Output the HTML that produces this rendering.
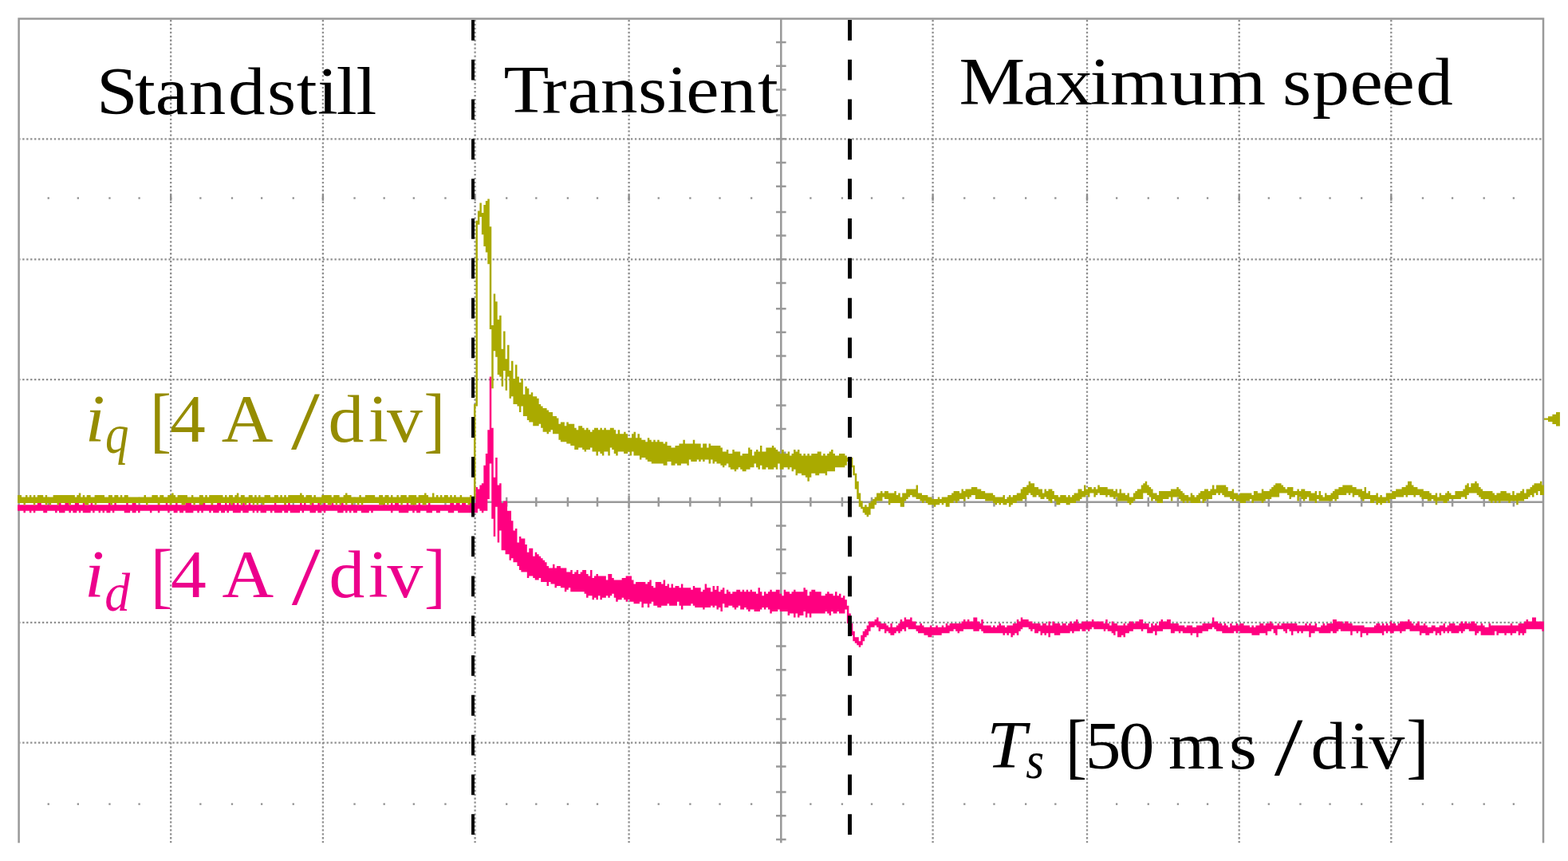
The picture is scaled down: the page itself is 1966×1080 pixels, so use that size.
<!DOCTYPE html>
<html lang="en">
<head>
<meta charset="utf-8">
<title>Oscilloscope: i_q and i_d currents - standstill, transient, maximum speed</title>
<style>
html,body{margin:0;padding:0;background:#fff;}
body{width:1966px;height:1080px;overflow:hidden;font-family:"Liberation Serif",serif;}
svg{display:block;}
</style>
</head>
<body>
<svg width="1966" height="1080" viewBox="0 0 1966 1080">
<rect width="1966" height="1080" fill="#fff"/>
<g stroke="#8e8e8e" stroke-width="2.3" stroke-dasharray="2.3 2.653" fill="none">
<line x1="214.2" y1="24.7" x2="214.2" y2="1057.6" stroke-dashoffset="-0.15"/>
<line x1="404.9" y1="24.7" x2="404.9" y2="1057.6" stroke-dashoffset="-0.15"/>
<line x1="595.6" y1="24.7" x2="595.6" y2="1057.6" stroke-dashoffset="-0.15"/>
<line x1="788.6" y1="24.7" x2="788.6" y2="1057.6" stroke-dashoffset="-0.15"/>
<line x1="1169.6" y1="24.7" x2="1169.6" y2="1057.6" stroke-dashoffset="-0.15"/>
<line x1="1363" y1="24.7" x2="1363" y2="1057.6" stroke-dashoffset="-0.15"/>
<line x1="1553.7" y1="24.7" x2="1553.7" y2="1057.6" stroke-dashoffset="-0.15"/>
<line x1="1744.3" y1="24.7" x2="1744.3" y2="1057.6" stroke-dashoffset="-0.15"/>
<line x1="24.9" y1="174.3" x2="1933.8" y2="174.3" stroke-dashoffset="-3.3"/>
<line x1="24.9" y1="325.3" x2="1933.8" y2="325.3" stroke-dashoffset="-3.3"/>
<line x1="24.9" y1="476.2" x2="1933.8" y2="476.2" stroke-dashoffset="-3.3"/>
<line x1="24.9" y1="780.9" x2="1933.8" y2="780.9" stroke-dashoffset="-3.3"/>
<line x1="24.9" y1="931.7" x2="1933.8" y2="931.7" stroke-dashoffset="-3.3"/>
</g>
<g fill="#8e8e8e">
<rect x="59.58" y="247.35" width="2.3" height="2.3"/>
<rect x="96.71" y="247.35" width="2.3" height="2.3"/>
<rect x="136.31" y="247.35" width="2.3" height="2.3"/>
<rect x="173.44" y="247.35" width="2.3" height="2.3"/>
<rect x="250.2" y="247.35" width="2.3" height="2.3"/>
<rect x="289.83" y="247.35" width="2.3" height="2.3"/>
<rect x="326.97" y="247.35" width="2.3" height="2.3"/>
<rect x="366.6" y="247.35" width="2.3" height="2.3"/>
<rect x="443.38" y="247.35" width="2.3" height="2.3"/>
<rect x="480.53" y="247.35" width="2.3" height="2.3"/>
<rect x="517.67" y="247.35" width="2.3" height="2.3"/>
<rect x="557.3" y="247.35" width="2.3" height="2.3"/>
<rect x="634.04" y="247.35" width="2.3" height="2.3"/>
<rect x="671.16" y="247.35" width="2.3" height="2.3"/>
<rect x="710.74" y="247.35" width="2.3" height="2.3"/>
<rect x="747.86" y="247.35" width="2.3" height="2.3"/>
<rect x="824.6" y="247.35" width="2.3" height="2.3"/>
<rect x="864.23" y="247.35" width="2.3" height="2.3"/>
<rect x="901.37" y="247.35" width="2.3" height="2.3"/>
<rect x="941" y="247.35" width="2.3" height="2.3"/>
<rect x="1015.22" y="247.35" width="2.3" height="2.3"/>
<rect x="1054.76" y="247.35" width="2.3" height="2.3"/>
<rect x="1091.84" y="247.35" width="2.3" height="2.3"/>
<rect x="1131.38" y="247.35" width="2.3" height="2.3"/>
<rect x="1208.12" y="247.35" width="2.3" height="2.3"/>
<rect x="1245.31" y="247.35" width="2.3" height="2.3"/>
<rect x="1284.99" y="247.35" width="2.3" height="2.3"/>
<rect x="1322.18" y="247.35" width="2.3" height="2.3"/>
<rect x="1399" y="247.35" width="2.3" height="2.3"/>
<rect x="1438.63" y="247.35" width="2.3" height="2.3"/>
<rect x="1475.77" y="247.35" width="2.3" height="2.3"/>
<rect x="1512.92" y="247.35" width="2.3" height="2.3"/>
<rect x="1589.68" y="247.35" width="2.3" height="2.3"/>
<rect x="1629.29" y="247.35" width="2.3" height="2.3"/>
<rect x="1666.41" y="247.35" width="2.3" height="2.3"/>
<rect x="1706.02" y="247.35" width="2.3" height="2.3"/>
<rect x="1782.78" y="247.35" width="2.3" height="2.3"/>
<rect x="1819.93" y="247.35" width="2.3" height="2.3"/>
<rect x="1859.55" y="247.35" width="2.3" height="2.3"/>
<rect x="1896.7" y="247.35" width="2.3" height="2.3"/>
<rect x="213" y="244.8" width="2.4" height="7"/>
<rect x="403.7" y="244.8" width="2.4" height="7"/>
<rect x="594.4" y="244.8" width="2.4" height="7"/>
<rect x="787.4" y="244.8" width="2.4" height="7"/>
<rect x="1168.4" y="244.8" width="2.4" height="7"/>
<rect x="1361.8" y="244.8" width="2.4" height="7"/>
<rect x="1552.5" y="244.8" width="2.4" height="7"/>
<rect x="1743.1" y="244.8" width="2.4" height="7"/>
<rect x="59.58" y="1007.45" width="2.3" height="2.3"/>
<rect x="96.71" y="1007.45" width="2.3" height="2.3"/>
<rect x="136.31" y="1007.45" width="2.3" height="2.3"/>
<rect x="173.44" y="1007.45" width="2.3" height="2.3"/>
<rect x="250.2" y="1007.45" width="2.3" height="2.3"/>
<rect x="289.83" y="1007.45" width="2.3" height="2.3"/>
<rect x="326.97" y="1007.45" width="2.3" height="2.3"/>
<rect x="366.6" y="1007.45" width="2.3" height="2.3"/>
<rect x="443.38" y="1007.45" width="2.3" height="2.3"/>
<rect x="480.53" y="1007.45" width="2.3" height="2.3"/>
<rect x="517.67" y="1007.45" width="2.3" height="2.3"/>
<rect x="557.3" y="1007.45" width="2.3" height="2.3"/>
<rect x="634.04" y="1007.45" width="2.3" height="2.3"/>
<rect x="671.16" y="1007.45" width="2.3" height="2.3"/>
<rect x="710.74" y="1007.45" width="2.3" height="2.3"/>
<rect x="747.86" y="1007.45" width="2.3" height="2.3"/>
<rect x="824.6" y="1007.45" width="2.3" height="2.3"/>
<rect x="864.23" y="1007.45" width="2.3" height="2.3"/>
<rect x="901.37" y="1007.45" width="2.3" height="2.3"/>
<rect x="941" y="1007.45" width="2.3" height="2.3"/>
<rect x="1015.22" y="1007.45" width="2.3" height="2.3"/>
<rect x="1054.76" y="1007.45" width="2.3" height="2.3"/>
<rect x="1091.84" y="1007.45" width="2.3" height="2.3"/>
<rect x="1131.38" y="1007.45" width="2.3" height="2.3"/>
<rect x="1208.12" y="1007.45" width="2.3" height="2.3"/>
<rect x="1245.31" y="1007.45" width="2.3" height="2.3"/>
<rect x="1284.99" y="1007.45" width="2.3" height="2.3"/>
<rect x="1322.18" y="1007.45" width="2.3" height="2.3"/>
<rect x="1399" y="1007.45" width="2.3" height="2.3"/>
<rect x="1438.63" y="1007.45" width="2.3" height="2.3"/>
<rect x="1475.77" y="1007.45" width="2.3" height="2.3"/>
<rect x="1512.92" y="1007.45" width="2.3" height="2.3"/>
<rect x="1589.68" y="1007.45" width="2.3" height="2.3"/>
<rect x="1629.29" y="1007.45" width="2.3" height="2.3"/>
<rect x="1666.41" y="1007.45" width="2.3" height="2.3"/>
<rect x="1706.02" y="1007.45" width="2.3" height="2.3"/>
<rect x="1782.78" y="1007.45" width="2.3" height="2.3"/>
<rect x="1819.93" y="1007.45" width="2.3" height="2.3"/>
<rect x="1859.55" y="1007.45" width="2.3" height="2.3"/>
<rect x="1896.7" y="1007.45" width="2.3" height="2.3"/>
</g>
<g stroke="#999999" stroke-width="2.5" fill="none">
<path d="M23.6 1057.6V23.4H1935V1057.6"/>
<path d="M979.3 23.4V1057.6 M23.6 629.7H1935"/>
<path d="M60.73 623.8V635.6M97.86 623.8V635.6M137.46 623.8V635.6M174.59 623.8V635.6M251.35 623.8V635.6M290.98 623.8V635.6M328.12 623.8V635.6M367.75 623.8V635.6M444.53 623.8V635.6M481.68 623.8V635.6M518.82 623.8V635.6M558.45 623.8V635.6M635.19 623.8V635.6M672.31 623.8V635.6M711.89 623.8V635.6M749.01 623.8V635.6M825.75 623.8V635.6M865.38 623.8V635.6M902.52 623.8V635.6M942.15 623.8V635.6M1016.37 623.8V635.6M1055.91 623.8V635.6M1092.99 623.8V635.6M1132.53 623.8V635.6M1209.27 623.8V635.6M1246.46 623.8V635.6M1286.14 623.8V635.6M1323.33 623.8V635.6M1400.15 623.8V635.6M1439.78 623.8V635.6M1476.92 623.8V635.6M1514.07 623.8V635.6M1590.83 623.8V635.6M1630.44 623.8V635.6M1667.56 623.8V635.6M1707.17 623.8V635.6M1783.93 623.8V635.6M1821.08 623.8V635.6M1860.7 623.8V635.6M1897.85 623.8V635.6M214.2 621.7V637.7M404.9 621.7V637.7M595.6 621.7V637.7M788.6 621.7V637.7M1169.6 621.7V637.7M1363 621.7V637.7M1553.7 621.7V637.7M1744.3 621.7V637.7M973 53.09H985.6M973 82.77H985.6M973 112.46H985.6M973 144.61H985.6M973 204H985.6M973 233.71H985.6M973 265.89H985.6M973 295.6H985.6M973 354.99H985.6M973 387.14H985.6M973 416.83H985.6M973 446.51H985.6M973 508.39H985.6M973 538.1H985.6M973 567.8H985.6M973 597.51H985.6M973 659.44H985.6M973 689.19H985.6M973 718.93H985.6M973 751.16H985.6M973 810.57H985.6M973 840.23H985.6M973 872.37H985.6M973 902.03H985.6M973 961.4H985.6M973 993.59H985.6M973 1023.29H985.6M973 1053H985.6M973 174.3H985.6M973 325.3H985.6M973 476.2H985.6M973 780.9H985.6M973 931.7H985.6"/>
</g>
<g>
<path fill="#ff0080" d="M22.05 633.37V640.8H24.53V633.37ZM24.53 633.37V640.8H27V633.37ZM27 633.37V640.8H29.48V633.37ZM29.48 633.37V643.28H31.95V633.37ZM31.95 633.37V640.8H34.43V633.37ZM34.43 633.37V640.8H36.9V633.37ZM36.9 633.37V643.28H39.38V633.37ZM39.38 633.37V640.8H41.86V633.37ZM41.86 633.37V643.28H44.33V633.37ZM44.33 633.37V640.8H46.81V633.37ZM46.81 630.9V640.8H49.28V630.9ZM49.28 630.9V640.8H51.76V630.9ZM51.76 633.37V640.8H54.24V633.37ZM54.24 633.37V643.28H56.71V633.37ZM56.71 633.37V643.28H59.19V633.37ZM59.19 633.37V640.8H61.66V633.37ZM61.66 633.37V640.8H64.14V633.37ZM64.14 633.37V640.8H66.61V633.37ZM66.61 633.37V640.8H69.09V633.37ZM69.09 633.37V643.28H71.57V633.37ZM71.57 633.37V640.8H74.04V633.37ZM74.04 630.9V643.28H76.52V630.9ZM76.52 633.37V643.28H78.99V633.37ZM78.99 633.37V643.28H81.47V633.37ZM81.47 630.9V640.8H83.95V630.9ZM83.95 630.9V640.8H86.42V630.9ZM86.42 633.37V643.28H88.9V633.37ZM88.9 633.37V640.8H91.37V633.37ZM91.37 633.37V643.28H93.85V633.37ZM93.85 630.9V643.28H96.32V630.9ZM96.32 630.9V640.8H98.8V630.9ZM98.8 633.37V643.28H101.28V633.37ZM101.28 633.37V640.8H103.75V633.37ZM103.75 630.9V643.28H106.23V630.9ZM106.23 633.37V643.28H108.7V633.37ZM108.7 633.37V643.28H111.18V633.37ZM111.18 633.37V643.28H113.65V633.37ZM113.65 630.9V640.8H116.13V630.9ZM116.13 633.37V643.28H118.61V633.37ZM118.61 633.37V640.8H121.08V633.37ZM121.08 633.37V640.8H123.56V633.37ZM123.56 633.37V643.28H126.03V633.37ZM126.03 633.37V640.8H128.51V633.37ZM128.51 633.37V643.28H130.99V633.37ZM130.99 633.37V640.8H133.46V633.37ZM133.46 633.37V643.28H135.94V633.37ZM135.94 630.9V643.28H138.41V630.9ZM138.41 633.37V640.8H140.89V633.37ZM140.89 633.37V643.28H143.36V633.37ZM143.36 630.9V640.8H145.84V630.9ZM145.84 633.37V640.8H148.32V633.37ZM148.32 633.37V640.8H150.79V633.37ZM150.79 633.37V640.8H153.27V633.37ZM153.27 633.37V640.8H155.74V633.37ZM155.74 633.37V643.28H158.22V633.37ZM158.22 630.9V643.28H160.69V630.9ZM160.69 633.37V643.28H163.17V633.37ZM163.17 633.37V640.8H165.65V633.37ZM165.65 630.9V643.28H168.12V630.9ZM168.12 630.9V643.28H170.6V630.9ZM170.6 633.37V640.8H173.07V633.37ZM173.07 633.37V643.28H175.55V633.37ZM175.55 633.37V640.8H178.03V633.37ZM178.03 633.37V640.8H180.5V633.37ZM180.5 633.37V640.8H182.98V633.37ZM182.98 633.37V640.8H185.45V633.37ZM185.45 633.37V640.8H187.93V633.37ZM187.93 633.37V643.28H190.4V633.37ZM190.4 633.37V640.8H192.88V633.37ZM192.88 633.37V640.8H195.36V633.37ZM195.36 633.37V640.8H197.83V633.37ZM197.83 630.9V643.28H200.31V630.9ZM200.31 633.37V640.8H202.78V633.37ZM202.78 633.37V640.8H205.26V633.37ZM205.26 633.37V640.8H207.74V633.37ZM207.74 630.9V640.8H210.21V630.9ZM210.21 633.37V643.28H212.69V633.37ZM212.69 633.37V640.8H215.16V633.37ZM215.16 633.37V640.8H217.64V633.37ZM217.64 633.37V643.28H220.11V633.37ZM220.11 630.9V643.28H222.59V630.9ZM222.59 633.37V640.8H225.07V633.37ZM225.07 633.37V643.28H227.54V633.37ZM227.54 633.37V643.28H230.02V633.37ZM230.02 633.37V640.8H232.49V633.37ZM232.49 630.9V643.28H234.97V630.9ZM234.97 630.9V643.28H237.44V630.9ZM237.44 630.9V643.28H239.92V630.9ZM239.92 633.37V643.28H242.4V633.37ZM242.4 633.37V640.8H244.87V633.37ZM244.87 633.37V640.8H247.35V633.37ZM247.35 633.37V643.28H249.82V633.37ZM249.82 630.9V640.8H252.3V630.9ZM252.3 630.9V643.28H254.78V630.9ZM254.78 630.9V640.8H257.25V630.9ZM257.25 633.37V640.8H259.73V633.37ZM259.73 633.37V640.8H262.2V633.37ZM262.2 633.37V643.28H264.68V633.37ZM264.68 630.9V640.8H267.15V630.9ZM267.15 633.37V643.28H269.63V633.37ZM269.63 633.37V643.28H272.11V633.37ZM272.11 630.9V643.28H274.58V630.9ZM274.58 630.9V640.8H277.06V630.9ZM277.06 633.37V643.28H279.53V633.37ZM279.53 633.37V643.28H282.01V633.37ZM282.01 630.9V640.8H284.48V630.9ZM284.48 633.37V643.28H286.96V633.37ZM286.96 630.9V640.8H289.44V630.9ZM289.44 633.37V640.8H291.91V633.37ZM291.91 630.9V643.28H294.39V630.9ZM294.39 633.37V643.28H296.86V633.37ZM296.86 630.9V643.28H299.34V630.9ZM299.34 633.37V643.28H301.82V633.37ZM301.82 633.37V640.8H304.29V633.37ZM304.29 630.9V643.28H306.77V630.9ZM306.77 633.37V643.28H309.24V633.37ZM309.24 633.37V643.28H311.72V633.37ZM311.72 630.9V640.8H314.19V630.9ZM314.19 633.37V640.8H316.67V633.37ZM316.67 633.37V643.28H319.15V633.37ZM319.15 633.37V640.8H321.62V633.37ZM321.62 633.37V643.28H324.1V633.37ZM324.1 633.37V640.8H326.57V633.37ZM326.57 633.37V643.28H329.05V633.37ZM329.05 633.37V643.28H331.52V633.37ZM331.53 633.37V643.28H334V633.37ZM334 633.37V640.8H336.48V633.37ZM336.48 633.37V640.8H338.95V633.37ZM338.95 633.37V643.28H341.43V633.37ZM341.43 633.37V640.8H343.9V633.37ZM343.9 630.9V643.28H346.38V630.9ZM346.38 633.37V643.28H348.86V633.37ZM348.86 633.37V643.28H351.33V633.37ZM351.33 633.37V643.28H353.81V633.37ZM353.81 633.37V640.8H356.28V633.37ZM356.28 630.9V643.28H358.76V630.9ZM358.76 633.37V643.28H361.23V633.37ZM361.23 630.9V640.8H363.71V630.9ZM363.71 633.37V643.28H366.19V633.37ZM366.19 633.37V643.28H368.66V633.37ZM368.66 633.37V643.28H371.14V633.37ZM371.14 633.37V643.28H373.61V633.37ZM373.61 633.37V643.28H376.09V633.37ZM376.09 630.9V640.8H378.57V630.9ZM378.57 633.37V643.28H381.04V633.37ZM381.04 630.9V640.8H383.52V630.9ZM383.52 633.37V640.8H385.99V633.37ZM385.99 633.37V640.8H388.47V633.37ZM388.47 633.37V643.28H390.94V633.37ZM390.94 630.9V643.28H393.42V630.9ZM393.42 633.37V643.28H395.9V633.37ZM395.9 633.37V640.8H398.37V633.37ZM398.37 630.9V643.28H400.85V630.9ZM400.85 633.37V643.28H403.32V633.37ZM403.32 633.37V640.8H405.8V633.37ZM405.8 630.9V643.28H408.27V630.9ZM408.27 633.37V640.8H410.75V633.37ZM410.75 633.37V640.8H413.23V633.37ZM413.23 633.37V640.8H415.7V633.37ZM415.7 630.9V640.8H418.18V630.9ZM418.18 633.37V640.8H420.65V633.37ZM420.65 633.37V640.8H423.13V633.37ZM423.13 633.37V643.28H425.61V633.37ZM425.61 633.37V643.28H428.08V633.37ZM428.08 630.9V643.28H430.56V630.9ZM430.56 633.37V640.8H433.03V633.37ZM433.03 633.37V643.28H435.51V633.37ZM435.51 633.37V640.8H437.98V633.37ZM437.98 633.37V643.28H440.46V633.37ZM440.46 630.9V640.8H442.94V630.9ZM442.94 633.37V643.28H445.41V633.37ZM445.41 633.37V643.28H447.89V633.37ZM447.89 633.37V640.8H450.36V633.37ZM450.36 633.37V640.8H452.84V633.37ZM452.84 633.37V643.28H455.31V633.37ZM455.31 633.37V643.28H457.79V633.37ZM457.79 633.37V643.28H460.27V633.37ZM460.27 633.37V643.28H462.74V633.37ZM462.74 633.37V640.8H465.22V633.37ZM465.22 633.37V643.28H467.69V633.37ZM467.69 633.37V640.8H470.17V633.37ZM470.17 633.37V640.8H472.65V633.37ZM472.65 633.37V640.8H475.12V633.37ZM475.12 633.37V640.8H477.6V633.37ZM477.6 633.37V640.8H480.07V633.37ZM480.07 630.9V640.8H482.55V630.9ZM482.55 633.37V640.8H485.02V633.37ZM485.02 633.37V640.8H487.5V633.37ZM487.5 633.37V640.8H489.98V633.37ZM489.98 630.9V643.28H492.45V630.9ZM492.45 633.37V640.8H494.93V633.37ZM494.93 630.9V640.8H497.4V630.9ZM497.4 630.9V640.8H499.88V630.9ZM499.88 633.37V643.28H502.36V633.37ZM502.36 633.37V643.28H504.83V633.37ZM504.83 633.37V643.28H507.31V633.37ZM507.31 633.37V643.28H509.78V633.37ZM509.78 630.9V643.28H512.26V630.9ZM512.26 633.37V640.8H514.73V633.37ZM514.73 633.37V640.8H517.21V633.37ZM517.21 633.37V643.28H519.69V633.37ZM519.69 633.37V640.8H522.16V633.37ZM522.16 633.37V643.28H524.64V633.37ZM524.64 630.9V643.28H527.11V630.9ZM527.11 633.37V640.8H529.59V633.37ZM529.59 633.37V640.8H532.06V633.37ZM532.06 633.37V640.8H534.54V633.37ZM534.54 633.37V643.28H537.02V633.37ZM537.02 630.9V643.28H539.49V630.9ZM539.49 633.37V643.28H541.97V633.37ZM541.97 633.37V640.8H544.44V633.37ZM544.44 633.37V640.8H546.92V633.37ZM546.92 633.37V643.28H549.4V633.37ZM549.4 633.37V643.28H551.87V633.37ZM551.87 633.37V640.8H554.35V633.37ZM554.35 633.37V640.8H556.82V633.37ZM556.82 633.37V640.8H559.3V633.37ZM559.3 633.37V640.8H561.77V633.37ZM561.77 633.37V643.28H564.25V633.37ZM564.25 630.9V643.28H566.73V630.9ZM566.73 630.9V643.28H569.2V630.9ZM569.2 633.37V640.8H571.68V633.37ZM571.68 630.9V640.8H574.15V630.9ZM574.15 630.9V643.28H576.63V630.9ZM576.63 633.37V643.28H579.11V633.37ZM579.1 630.9V643.28H581.58V630.9ZM581.58 630.9V643.28H584.06V630.9ZM584.06 633.37V643.28H586.53V633.37ZM586.53 633.37V643.28H589.01V633.37ZM589.01 630.9V643.28H591.48V630.9ZM591.48 633.37V643.28H593.96V633.37ZM593.96 630.9V643.28H596.44V630.9ZM596.44 611.09V643.28H598.91V611.09ZM598.91 613.57V638.32H601.39V613.57ZM601.39 608.61V640.8H603.86V608.61ZM603.86 606.14V643.28H606.34V606.14ZM606.34 583.86V640.8H608.81V583.86ZM608.81 569V640.8H611.29V569ZM611.29 539.29V625.95H613.77V539.29ZM613.77 472.45V581.38H616.24V472.45ZM616.24 536.82V650.7H618.72V536.82ZM618.72 598.71V672.99H621.19V598.71ZM621.19 573.95V635.85H623.67V573.95ZM623.67 608.61V680.41H626.15V608.61ZM626.15 606.14V665.56H628.62V606.14ZM628.62 630.9V690.32H631.1V630.9ZM631.1 628.42V690.32H633.57V628.42ZM633.57 628.42V695.27H636.05V628.42ZM636.05 640.8V695.27H638.52V640.8ZM638.52 640.8V702.7H641V640.8ZM641 653.18V700.22H643.48V653.18ZM643.48 665.56V705.17H645.95V665.56ZM645.95 663.08V705.17H648.43V663.08ZM648.43 680.41V710.12H650.9V680.41ZM650.9 672.99V715.07H653.38V672.99ZM653.38 675.46V717.55H655.85V675.46ZM655.85 675.46V717.55H658.33V675.46ZM658.33 682.89V717.55H660.81V682.89ZM660.81 692.79V724.98H663.28V692.79ZM663.28 687.84V722.5H665.76V687.84ZM665.76 687.84V722.5H668.23V687.84ZM668.23 697.74V724.98H670.71V697.74ZM670.71 692.79V727.45H673.19V692.79ZM673.19 695.27V727.45H675.66V695.27ZM675.66 697.74V724.98H678.14V697.74ZM678.14 700.22V729.93H680.61V700.22ZM680.61 702.7V729.93H683.09V702.7ZM683.09 705.17V729.93H685.56V705.17ZM685.56 710.12V734.88H688.04V710.12ZM688.04 712.6V729.93H690.52V712.6ZM690.52 712.6V732.4H692.99V712.6ZM692.99 707.65V732.4H695.47V707.65ZM695.47 712.6V737.36H697.94V712.6ZM697.94 710.12V734.88H700.42V710.12ZM700.42 710.12V734.88H702.89V710.12ZM702.89 712.6V737.36H705.37V712.6ZM705.37 712.6V737.36H707.85V712.6ZM707.85 712.6V742.31H710.32V712.6ZM710.32 717.55V739.83H712.8V717.55ZM712.8 717.55V737.36H715.27V717.55ZM715.27 715.07V742.31H717.75V715.07ZM717.75 720.03V742.31H720.23V720.03ZM720.23 717.55V742.31H722.7V717.55ZM722.7 715.07V742.31H725.18V715.07ZM725.18 720.03V742.31H727.65V720.03ZM727.65 717.55V742.31H730.13V717.55ZM730.13 715.07V742.31H732.6V715.07ZM732.6 715.07V744.78H735.08V715.07ZM735.08 720.03V749.74H737.56V720.03ZM737.56 722.5V747.26H740.03V722.5ZM740.03 715.07V747.26H742.51V715.07ZM742.51 724.98V752.21H744.98V724.98ZM744.98 722.5V749.74H747.46V722.5ZM747.46 720.03V752.21H749.94V720.03ZM749.94 722.5V747.26H752.41V722.5ZM752.41 722.5V752.21H754.89V722.5ZM754.89 722.5V749.74H757.36V722.5ZM757.36 722.5V749.74H759.84V722.5ZM759.84 727.45V747.26H762.31V727.45ZM762.31 720.03V749.74H764.79V720.03ZM764.79 720.03V747.26H767.27V720.03ZM767.27 724.98V744.78H769.74V724.98ZM769.74 727.45V749.74H772.22V727.45ZM772.22 727.45V754.69H774.69V727.45ZM774.69 727.45V752.21H777.17V727.45ZM777.17 727.45V752.21H779.64V727.45ZM779.64 724.98V749.74H782.12V724.98ZM782.12 724.98V752.21H784.6V724.98ZM784.6 722.5V754.69H787.07V722.5ZM787.07 722.5V752.21H789.55V722.5ZM789.55 722.5V754.69H792.02V722.5ZM792.02 727.45V754.69H794.5V727.45ZM794.5 732.4V757.16H796.98V732.4ZM796.98 729.93V757.16H799.45V729.93ZM799.45 729.93V757.16H801.93V729.93ZM801.93 729.93V754.69H804.4V729.93ZM804.4 729.93V762.11H806.88V729.93ZM806.88 729.93V757.16H809.35V729.93ZM809.35 732.4V757.16H811.83V732.4ZM811.83 729.93V762.11H814.31V729.93ZM814.31 727.45V757.16H816.78V727.45ZM816.78 734.88V754.69H819.26V734.88ZM819.26 737.36V759.64H821.73V737.36ZM821.73 729.93V759.64H824.21V729.93ZM824.21 729.93V762.11H826.69V729.93ZM826.68 729.93V762.11H829.16V729.93ZM829.16 732.4V759.64H831.64V732.4ZM831.64 727.45V759.64H834.11V727.45ZM834.11 734.88V759.64H836.59V734.88ZM836.59 732.4V757.16H839.06V732.4ZM839.06 737.36V759.64H841.54V737.36ZM841.54 732.4V759.64H844.02V732.4ZM844.02 737.36V759.64H846.49V737.36ZM846.49 734.88V759.64H848.97V734.88ZM848.97 734.88V754.69H851.44V734.88ZM851.44 737.36V759.64H853.92V737.36ZM853.92 732.4V764.59H856.39V732.4ZM856.39 737.36V759.64H858.87V737.36ZM858.87 737.36V759.64H861.35V737.36ZM861.35 737.36V759.64H863.82V737.36ZM863.82 737.36V759.64H866.3V737.36ZM866.3 739.83V757.16H868.77V739.83ZM868.77 734.88V759.64H871.25V734.88ZM871.25 737.36V762.11H873.73V737.36ZM873.73 737.36V762.11H876.2V737.36ZM876.2 737.36V762.11H878.68V737.36ZM878.68 742.31V762.11H881.15V742.31ZM881.15 739.83V764.59H883.63V739.83ZM883.63 732.4V762.11H886.1V732.4ZM886.1 737.36V762.11H888.58V737.36ZM888.58 737.36V762.11H891.06V737.36ZM891.06 742.31V759.64H893.53V742.31ZM893.53 734.88V762.11H896.01V734.88ZM896.01 739.83V759.64H898.48V739.83ZM898.48 734.88V764.59H900.96V734.88ZM900.96 742.31V762.11H903.43V742.31ZM903.43 739.83V767.07H905.91V739.83ZM905.91 737.36V757.16H908.39V737.36ZM908.39 744.78V762.11H910.86V744.78ZM910.86 739.83V762.11H913.34V739.83ZM913.34 742.31V759.64H915.81V742.31ZM915.81 744.78V759.64H918.29V744.78ZM918.29 742.31V762.11H920.77V742.31ZM920.77 742.31V764.59H923.24V742.31ZM923.24 739.83V762.11H925.72V739.83ZM925.72 739.83V759.64H928.19V739.83ZM928.19 742.31V764.59H930.67V742.31ZM930.67 739.83V764.59H933.14V739.83ZM933.14 742.31V762.11H935.62V742.31ZM935.62 739.83V764.59H938.1V739.83ZM938.1 742.31V767.07H940.57V742.31ZM940.57 739.83V764.59H943.05V739.83ZM943.05 742.31V764.59H945.52V742.31ZM945.52 742.31V767.07H948V742.31ZM948 744.78V767.07H950.48V744.78ZM950.47 737.36V767.07H952.95V737.36ZM952.95 742.31V764.59H955.43V742.31ZM955.43 747.26V762.11H957.9V747.26ZM957.9 742.31V764.59H960.38V742.31ZM960.38 744.78V762.11H962.85V744.78ZM962.85 742.31V764.59H965.33V742.31ZM965.33 739.83V769.54H967.81V739.83ZM967.81 742.31V767.07H970.28V742.31ZM970.28 742.31V767.07H972.76V742.31ZM972.76 739.83V767.07H975.23V739.83ZM975.23 739.83V764.59H977.71V739.83ZM977.71 744.78V767.07H980.18V744.78ZM980.18 747.26V767.07H982.66V747.26ZM982.66 739.83V767.07H985.14V739.83ZM985.14 742.31V767.07H987.61V742.31ZM987.61 742.31V772.02H990.09V742.31ZM990.09 744.78V769.54H992.56V744.78ZM992.56 742.31V769.54H995.04V742.31ZM995.04 739.83V774.49H997.52V739.83ZM997.52 742.31V769.54H999.99V742.31ZM999.99 742.31V774.49H1002.47V742.31ZM1002.47 742.31V772.02H1004.94V742.31ZM1004.94 742.31V772.02H1007.42V742.31ZM1007.42 737.36V767.07H1009.89V737.36ZM1009.89 739.83V774.49H1012.37V739.83ZM1012.37 747.26V769.54H1014.85V747.26ZM1014.85 742.31V774.49H1017.32V742.31ZM1017.32 739.83V769.54H1019.8V739.83ZM1019.8 739.83V769.54H1022.27V739.83ZM1022.27 742.31V769.54H1024.75V742.31ZM1024.75 742.31V769.54H1027.22V742.31ZM1027.22 742.31V769.54H1029.7V742.31ZM1029.7 747.26V769.54H1032.18V747.26ZM1032.18 747.26V769.54H1034.65V747.26ZM1034.65 744.78V767.07H1037.13V744.78ZM1037.13 742.31V769.54H1039.6V742.31ZM1039.6 744.78V772.02H1042.08V744.78ZM1042.08 744.78V767.07H1044.56V744.78ZM1044.56 747.26V769.54H1047.03V747.26ZM1047.03 742.31V769.54H1049.51V742.31ZM1049.51 747.26V767.07H1051.98V747.26ZM1051.98 744.78V769.54H1054.46V744.78ZM1054.46 749.74V769.54H1056.93V749.74ZM1056.93 747.26V769.54H1059.41V747.26ZM1059.41 752.21V764.59H1061.89V752.21ZM1061.89 759.64V781.92H1064.36V759.64ZM1064.36 769.54V789.35H1066.84V769.54ZM1066.84 781.92V796.78H1069.31V781.92ZM1069.31 791.82V804.2H1071.79V791.82ZM1071.79 799.25V806.68H1074.26V799.25ZM1074.26 799.25V809.15H1076.74V799.25ZM1076.74 804.2V811.63H1079.22V804.2ZM1079.22 796.78V809.15H1081.69V796.78ZM1081.69 791.82V804.2H1084.17V791.82ZM1084.17 789.35V799.25H1086.64V789.35ZM1086.64 784.4V796.78H1089.12V784.4ZM1089.12 779.44V791.82H1091.6V779.44ZM1091.6 779.44V786.87H1094.07V779.44ZM1094.07 779.44V786.87H1096.55V779.44ZM1096.55 776.97V784.4H1099.02V776.97ZM1099.02 774.49V786.87H1101.5V774.49ZM1101.5 779.44V791.82H1103.97V779.44ZM1103.97 781.92V789.35H1106.45V781.92ZM1106.45 781.92V789.35H1108.93V781.92ZM1108.93 781.92V794.3H1111.4V781.92ZM1111.4 784.4V791.82H1113.88V784.4ZM1113.88 786.87V794.3H1116.35V786.87ZM1116.35 781.92V796.78H1118.83V781.92ZM1118.83 786.87V796.78H1121.31V786.87ZM1121.31 786.87V794.3H1123.78V786.87ZM1123.78 784.4V791.82H1126.26V784.4ZM1126.26 781.92V794.3H1128.73V781.92ZM1128.73 776.97V791.82H1131.21V776.97ZM1131.21 779.44V789.35H1133.68V779.44ZM1133.68 774.49V791.82H1136.16V774.49ZM1136.16 776.97V786.87H1138.64V776.97ZM1138.64 776.97V789.35H1141.11V776.97ZM1141.11 774.49V789.35H1143.59V774.49ZM1143.59 779.44V789.35H1146.06V779.44ZM1146.06 779.44V789.35H1148.54V779.44ZM1148.54 784.4V791.82H1151.01V784.4ZM1151.01 784.4V794.3H1153.49V784.4ZM1153.49 781.92V794.3H1155.97V781.92ZM1155.97 784.4V794.3H1158.44V784.4ZM1158.44 786.87V796.78H1160.92V786.87ZM1160.92 786.87V796.78H1163.39V786.87ZM1163.39 786.87V799.25H1165.87V786.87ZM1165.87 784.4V799.25H1168.35V784.4ZM1168.35 786.87V796.78H1170.82V786.87ZM1170.82 786.87V796.78H1173.3V786.87ZM1173.3 784.4V796.78H1175.77V784.4ZM1175.77 786.87V796.78H1178.25V786.87ZM1178.25 786.87V796.78H1180.72V786.87ZM1180.72 784.4V794.3H1183.2V784.4ZM1183.2 786.87V794.3H1185.68V786.87ZM1185.68 781.92V794.3H1188.15V781.92ZM1188.15 784.4V794.3H1190.63V784.4ZM1190.63 781.92V791.82H1193.1V781.92ZM1193.1 781.92V791.82H1195.58V781.92ZM1195.58 781.92V789.35H1198.05V781.92ZM1198.06 781.92V791.82H1200.53V781.92ZM1200.53 781.92V794.3H1203.01V781.92ZM1203.01 781.92V791.82H1205.48V781.92ZM1205.48 779.44V791.82H1207.96V779.44ZM1207.96 776.97V789.35H1210.43V776.97ZM1210.43 779.44V789.35H1212.91V779.44ZM1212.91 776.97V789.35H1215.39V776.97ZM1215.39 779.44V789.35H1217.86V779.44ZM1217.86 779.44V789.35H1220.34V779.44ZM1220.34 774.49V791.82H1222.81V774.49ZM1222.81 774.49V791.82H1225.29V774.49ZM1225.29 779.44V791.82H1227.76V779.44ZM1227.76 781.92V789.35H1230.24V781.92ZM1230.24 776.97V791.82H1232.72V776.97ZM1232.72 784.4V794.3H1235.19V784.4ZM1235.19 784.4V794.3H1237.67V784.4ZM1237.67 784.4V794.3H1240.14V784.4ZM1240.14 784.4V794.3H1242.62V784.4ZM1242.62 786.87V794.3H1245.1V786.87ZM1245.1 784.4V794.3H1247.57V784.4ZM1247.57 786.87V794.3H1250.05V786.87ZM1250.05 784.4V794.3H1252.52V784.4ZM1252.52 781.92V794.3H1255V781.92ZM1255 784.4V794.3H1257.47V784.4ZM1257.47 784.4V796.78H1259.95V784.4ZM1259.95 786.87V794.3H1262.43V786.87ZM1262.43 784.4V796.78H1264.9V784.4ZM1264.9 784.4V794.3H1267.38V784.4ZM1267.38 784.4V799.25H1269.85V784.4ZM1269.85 781.92V796.78H1272.33V781.92ZM1272.33 781.92V794.3H1274.8V781.92ZM1274.8 776.97V796.78H1277.28V776.97ZM1277.28 779.44V791.82H1279.76V779.44ZM1279.76 774.49V789.35H1282.23V774.49ZM1282.23 776.97V786.87H1284.71V776.97ZM1284.71 776.97V786.87H1287.18V776.97ZM1287.18 776.97V786.87H1289.66V776.97ZM1289.66 779.44V789.35H1292.14V779.44ZM1292.14 779.44V791.82H1294.61V779.44ZM1294.61 781.92V789.35H1297.09V781.92ZM1297.09 781.92V794.3H1299.56V781.92ZM1299.56 781.92V794.3H1302.04V781.92ZM1302.04 781.92V791.82H1304.51V781.92ZM1304.51 784.4V796.78H1306.99V784.4ZM1306.99 781.92V794.3H1309.47V781.92ZM1309.47 781.92V796.78H1311.94V781.92ZM1311.94 784.4V794.3H1314.42V784.4ZM1314.42 779.44V799.25H1316.89V779.44ZM1316.89 784.4V794.3H1319.37V784.4ZM1319.37 779.44V794.3H1321.84V779.44ZM1321.85 781.92V796.78H1324.32V781.92ZM1324.32 781.92V796.78H1326.8V781.92ZM1326.8 781.92V796.78H1329.27V781.92ZM1329.27 784.4V794.3H1331.75V784.4ZM1331.75 781.92V794.3H1334.22V781.92ZM1334.22 781.92V794.3H1336.7V781.92ZM1336.7 784.4V794.3H1339.18V784.4ZM1339.18 781.92V794.3H1341.65V781.92ZM1341.65 779.44V791.82H1344.13V779.44ZM1344.13 781.92V794.3H1346.6V781.92ZM1346.6 779.44V791.82H1349.08V779.44ZM1349.08 776.97V791.82H1351.55V776.97ZM1351.55 781.92V791.82H1354.03V781.92ZM1354.03 781.92V789.35H1356.51V781.92ZM1356.51 779.44V791.82H1358.98V779.44ZM1358.98 779.44V791.82H1361.46V779.44ZM1361.46 779.44V789.35H1363.93V779.44ZM1363.93 779.44V791.82H1366.41V779.44ZM1366.41 779.44V789.35H1368.89V779.44ZM1368.89 776.97V786.87H1371.36V776.97ZM1371.36 779.44V789.35H1373.84V779.44ZM1373.84 779.44V789.35H1376.31V779.44ZM1376.31 779.44V789.35H1378.79V779.44ZM1378.79 779.44V789.35H1381.26V779.44ZM1381.26 779.44V789.35H1383.74V779.44ZM1383.74 781.92V791.82H1386.22V781.92ZM1386.22 776.97V789.35H1388.69V776.97ZM1388.69 781.92V791.82H1391.17V781.92ZM1391.17 784.4V791.82H1393.64V784.4ZM1393.64 779.44V794.3H1396.12V779.44ZM1396.12 781.92V796.78H1398.59V781.92ZM1398.59 781.92V791.82H1401.07V781.92ZM1401.07 784.4V799.25H1403.55V784.4ZM1403.55 784.4V799.25H1406.02V784.4ZM1406.02 784.4V796.78H1408.5V784.4ZM1408.5 781.92V799.25H1410.97V781.92ZM1410.97 784.4V794.3H1413.45V784.4ZM1413.45 781.92V794.3H1415.93V781.92ZM1415.93 779.44V791.82H1418.4V779.44ZM1418.4 779.44V791.82H1420.88V779.44ZM1420.88 781.92V789.35H1423.35V781.92ZM1423.35 779.44V789.35H1425.83V779.44ZM1425.83 779.44V789.35H1428.3V779.44ZM1428.3 776.97V789.35H1430.78V776.97ZM1430.78 776.97V791.82H1433.26V776.97ZM1433.26 781.92V789.35H1435.73V781.92ZM1435.73 781.92V789.35H1438.21V781.92ZM1438.21 781.92V794.3H1440.68V781.92ZM1440.68 786.87V794.3H1443.16V786.87ZM1443.16 781.92V794.3H1445.63V781.92ZM1445.63 784.4V791.82H1448.11V784.4ZM1448.11 781.92V796.78H1450.59V781.92ZM1450.59 784.4V791.82H1453.06V784.4ZM1453.06 779.44V791.82H1455.54V779.44ZM1455.54 776.97V791.82H1458.01V776.97ZM1458.01 779.44V789.35H1460.49V779.44ZM1460.49 779.44V789.35H1462.97V779.44ZM1462.97 776.97V789.35H1465.44V776.97ZM1465.44 776.97V789.35H1467.92V776.97ZM1467.92 781.92V794.3H1470.39V781.92ZM1470.39 781.92V794.3H1472.87V781.92ZM1472.87 781.92V791.82H1475.34V781.92ZM1475.34 781.92V791.82H1477.82V781.92ZM1477.82 784.4V794.3H1480.3V784.4ZM1480.3 784.4V791.82H1482.77V784.4ZM1482.77 784.4V794.3H1485.25V784.4ZM1485.25 786.87V794.3H1487.72V786.87ZM1487.72 784.4V794.3H1490.2V784.4ZM1490.2 784.4V794.3H1492.68V784.4ZM1492.68 784.4V796.78H1495.15V784.4ZM1495.15 786.87V794.3H1497.63V786.87ZM1497.63 786.87V794.3H1500.1V786.87ZM1500.1 784.4V799.25H1502.58V784.4ZM1502.58 784.4V794.3H1505.05V784.4ZM1505.05 784.4V794.3H1507.53V784.4ZM1507.53 781.92V791.82H1510.01V781.92ZM1510.01 781.92V791.82H1512.48V781.92ZM1512.48 781.92V791.82H1514.96V781.92ZM1514.96 781.92V789.35H1517.43V781.92ZM1517.43 781.92V789.35H1519.91V781.92ZM1519.91 774.49V786.87H1522.38V774.49ZM1522.38 779.44V789.35H1524.86V779.44ZM1524.86 779.44V791.82H1527.34V779.44ZM1527.34 781.92V791.82H1529.81V781.92ZM1529.81 781.92V791.82H1532.29V781.92ZM1532.29 784.4V794.3H1534.76V784.4ZM1534.76 781.92V794.3H1537.24V781.92ZM1537.24 784.4V794.3H1539.72V784.4ZM1539.72 786.87V794.3H1542.19V786.87ZM1542.19 781.92V794.3H1544.67V781.92ZM1544.67 784.4V794.3H1547.14V784.4ZM1547.14 784.4V791.82H1549.62V784.4ZM1549.62 781.92V794.3H1552.09V781.92ZM1552.09 784.4V791.82H1554.57V784.4ZM1554.57 781.92V794.3H1557.05V781.92ZM1557.05 781.92V794.3H1559.52V781.92ZM1559.52 784.4V794.3H1562V784.4ZM1562 784.4V794.3H1564.47V784.4ZM1564.47 784.4V794.3H1566.95V784.4ZM1566.95 786.87V794.3H1569.42V786.87ZM1569.42 784.4V796.78H1571.9V784.4ZM1571.9 786.87V796.78H1574.38V786.87ZM1574.38 784.4V796.78H1576.85V784.4ZM1576.85 784.4V796.78H1579.33V784.4ZM1579.33 781.92V794.3H1581.8V781.92ZM1581.8 781.92V794.3H1584.28V781.92ZM1584.28 784.4V794.3H1586.76V784.4ZM1586.76 781.92V796.78H1589.23V781.92ZM1589.23 781.92V791.82H1591.71V781.92ZM1591.71 779.44V791.82H1594.18V779.44ZM1594.18 781.92V789.35H1596.66V781.92ZM1596.66 784.4V794.3H1599.13V784.4ZM1599.13 784.4V796.78H1601.61V784.4ZM1601.61 781.92V789.35H1604.09V781.92ZM1604.09 784.4V789.35H1606.56V784.4ZM1606.56 781.92V789.35H1609.04V781.92ZM1609.04 781.92V791.82H1611.51V781.92ZM1611.51 781.92V794.3H1613.99V781.92ZM1613.99 781.92V789.35H1616.47V781.92ZM1616.47 781.92V791.82H1618.94V781.92ZM1618.94 781.92V796.78H1621.42V781.92ZM1621.42 781.92V791.82H1623.89V781.92ZM1623.89 781.92V791.82H1626.37V781.92ZM1626.37 784.4V794.3H1628.84V784.4ZM1628.84 784.4V791.82H1631.32V784.4ZM1631.32 784.4V794.3H1633.8V784.4ZM1633.8 784.4V791.82H1636.27V784.4ZM1636.27 781.92V791.82H1638.75V781.92ZM1638.75 784.4V791.82H1641.22V784.4ZM1641.22 781.92V799.25H1643.7V781.92ZM1643.7 784.4V794.3H1646.17V784.4ZM1646.17 784.4V794.3H1648.65V784.4ZM1648.65 781.92V791.82H1651.13V781.92ZM1651.13 786.87V791.82H1653.6V786.87ZM1653.6 786.87V794.3H1656.08V786.87ZM1656.08 784.4V794.3H1658.55V784.4ZM1658.55 781.92V794.3H1661.03V781.92ZM1661.03 784.4V794.3H1663.51V784.4ZM1663.51 781.92V794.3H1665.98V781.92ZM1665.98 781.92V794.3H1668.46V781.92ZM1668.46 781.92V791.82H1670.93V781.92ZM1670.93 776.97V794.3H1673.41V776.97ZM1673.41 776.97V794.3H1675.88V776.97ZM1675.88 779.44V791.82H1678.36V779.44ZM1678.36 779.44V789.35H1680.84V779.44ZM1680.84 779.44V791.82H1683.31V779.44ZM1683.31 781.92V791.82H1685.79V781.92ZM1685.79 779.44V791.82H1688.26V779.44ZM1688.26 779.44V791.82H1690.74V779.44ZM1690.74 781.92V791.82H1693.21V781.92ZM1693.21 781.92V796.78H1695.69V781.92ZM1695.69 784.4V791.82H1698.17V784.4ZM1698.17 784.4V791.82H1700.64V784.4ZM1700.64 784.4V794.3H1703.12V784.4ZM1703.12 784.4V791.82H1705.59V784.4ZM1705.59 784.4V799.25H1708.07V784.4ZM1708.07 784.4V794.3H1710.55V784.4ZM1710.55 786.87V794.3H1713.02V786.87ZM1713.02 786.87V796.78H1715.5V786.87ZM1715.5 786.87V794.3H1717.97V786.87ZM1717.97 786.87V794.3H1720.45V786.87ZM1720.45 786.87V794.3H1722.92V786.87ZM1722.92 784.4V794.3H1725.4V784.4ZM1725.4 781.92V794.3H1727.88V781.92ZM1727.88 781.92V794.3H1730.35V781.92ZM1730.35 784.4V794.3H1732.83V784.4ZM1732.83 781.92V796.78H1735.3V781.92ZM1735.3 784.4V791.82H1737.78V784.4ZM1737.78 781.92V794.3H1740.26V781.92ZM1740.26 784.4V791.82H1742.73V784.4ZM1742.73 779.44V794.3H1745.21V779.44ZM1745.21 781.92V794.3H1747.68V781.92ZM1747.68 781.92V791.82H1750.16V781.92ZM1750.16 784.4V791.82H1752.63V784.4ZM1752.63 781.92V791.82H1755.11V781.92ZM1755.11 779.44V794.3H1757.59V779.44ZM1757.59 779.44V791.82H1760.06V779.44ZM1760.06 779.44V791.82H1762.54V779.44ZM1762.54 779.44V789.35H1765.01V779.44ZM1765.01 776.97V789.35H1767.49V776.97ZM1767.49 779.44V791.82H1769.96V779.44ZM1769.96 781.92V791.82H1772.44V781.92ZM1772.44 784.4V791.82H1774.92V784.4ZM1774.92 781.92V791.82H1777.39V781.92ZM1777.39 779.44V791.82H1779.87V779.44ZM1779.87 784.4V796.78H1782.34V784.4ZM1782.34 784.4V794.3H1784.82V784.4ZM1784.82 781.92V794.3H1787.3V781.92ZM1787.3 784.4V796.78H1789.77V784.4ZM1789.77 786.87V796.78H1792.25V786.87ZM1792.25 786.87V794.3H1794.72V786.87ZM1794.72 784.4V794.3H1797.2V784.4ZM1797.2 784.4V791.82H1799.67V784.4ZM1799.67 786.87V796.78H1802.15V786.87ZM1802.15 786.87V794.3H1804.63V786.87ZM1804.63 784.4V796.78H1807.1V784.4ZM1807.1 784.4V791.82H1809.58V784.4ZM1809.58 781.92V794.3H1812.05V781.92ZM1812.05 786.87V791.82H1814.53V786.87ZM1814.53 784.4V794.3H1817V784.4ZM1817 781.92V791.82H1819.48V781.92ZM1819.48 781.92V794.3H1821.96V781.92ZM1821.96 781.92V794.3H1824.43V781.92ZM1824.43 784.4V794.3H1826.91V784.4ZM1826.91 784.4V794.3H1829.38V784.4ZM1829.38 781.92V791.82H1831.86V781.92ZM1831.86 779.44V794.3H1834.34V779.44ZM1834.34 781.92V791.82H1836.81V781.92ZM1836.81 779.44V789.35H1839.29V779.44ZM1839.29 781.92V789.35H1841.76V781.92ZM1841.76 781.92V791.82H1844.24V781.92ZM1844.24 779.44V791.82H1846.71V779.44ZM1846.71 779.44V791.82H1849.19V779.44ZM1849.19 781.92V796.78H1851.67V781.92ZM1851.67 784.4V794.3H1854.14V784.4ZM1854.14 784.4V791.82H1856.62V784.4ZM1856.62 781.92V796.78H1859.09V781.92ZM1859.09 784.4V796.78H1861.57V784.4ZM1861.57 786.87V796.78H1864.05V786.87ZM1864.05 786.87V796.78H1866.52V786.87ZM1866.52 781.92V796.78H1869V781.92ZM1869 784.4V796.78H1871.47V784.4ZM1871.47 784.4V796.78H1873.95V784.4ZM1873.95 784.4V791.82H1876.42V784.4ZM1876.42 784.4V796.78H1878.9V784.4ZM1878.9 784.4V794.3H1881.38V784.4ZM1881.38 784.4V794.3H1883.85V784.4ZM1883.85 784.4V794.3H1886.33V784.4ZM1886.33 784.4V796.78H1888.8V784.4ZM1888.8 784.4V794.3H1891.28V784.4ZM1891.28 784.4V794.3H1893.75V784.4ZM1893.75 781.92V796.78H1896.23V781.92ZM1896.23 784.4V794.3H1898.71V784.4ZM1898.71 784.4V794.3H1901.18V784.4ZM1901.18 784.4V791.82H1903.66V784.4ZM1903.66 781.92V796.78H1906.13V781.92ZM1906.13 781.92V794.3H1908.61V781.92ZM1908.61 781.92V796.78H1911.09V781.92ZM1911.09 779.44V794.3H1913.56V779.44ZM1913.56 776.97V789.35H1916.04V776.97ZM1916.04 779.44V789.35H1918.51V779.44ZM1918.51 779.44V789.35H1920.99V779.44ZM1920.99 774.49V789.35H1923.46V774.49ZM1923.46 774.49V789.35H1925.94V774.49ZM1925.94 779.44V789.35H1928.42V779.44ZM1928.42 779.44V789.35H1930.89V779.44ZM1930.89 779.44V789.35H1933.37V779.44ZM1933.37 779.44V791.82H1935.84V779.44Z"/>
<path fill="#aaaa00" d="M22.05 620.99V630.9H24.53V620.99ZM24.53 620.99V630.9H27V620.99ZM27 623.47V630.9H29.48V623.47ZM29.48 623.47V633.37H31.95V623.47ZM31.95 620.99V630.9H34.43V620.99ZM34.43 623.47V630.9H36.9V623.47ZM36.9 620.99V630.9H39.38V620.99ZM39.38 623.47V630.9H41.86V623.47ZM41.86 620.99V633.37H44.33V620.99ZM44.33 623.47V630.9H46.81V623.47ZM46.81 620.99V630.9H49.28V620.99ZM49.28 620.99V630.9H51.76V620.99ZM51.76 620.99V630.9H54.24V620.99ZM54.24 623.47V630.9H56.71V623.47ZM56.71 620.99V633.37H59.19V620.99ZM59.19 623.47V630.9H61.66V623.47ZM61.66 623.47V633.37H64.14V623.47ZM64.14 623.47V630.9H66.61V623.47ZM66.61 620.99V630.9H69.09V620.99ZM69.09 620.99V630.9H71.57V620.99ZM71.57 620.99V633.37H74.04V620.99ZM74.04 620.99V630.9H76.52V620.99ZM76.52 620.99V630.9H78.99V620.99ZM78.99 620.99V630.9H81.47V620.99ZM81.47 620.99V630.9H83.95V620.99ZM83.95 620.99V630.9H86.42V620.99ZM86.42 620.99V633.37H88.9V620.99ZM88.9 620.99V630.9H91.37V620.99ZM91.37 620.99V630.9H93.85V620.99ZM93.85 623.47V630.9H96.32V623.47ZM96.32 620.99V630.9H98.8V620.99ZM98.8 618.52V630.9H101.28V618.52ZM101.28 623.47V630.9H103.75V623.47ZM103.75 620.99V630.9H106.23V620.99ZM106.23 623.47V633.37H108.7V623.47ZM108.7 620.99V633.37H111.18V620.99ZM111.18 620.99V630.9H113.65V620.99ZM113.65 623.47V630.9H116.13V623.47ZM116.13 623.47V630.9H118.61V623.47ZM118.61 620.99V633.37H121.08V620.99ZM121.08 620.99V630.9H123.56V620.99ZM123.56 620.99V630.9H126.03V620.99ZM126.03 620.99V630.9H128.51V620.99ZM128.51 620.99V630.9H130.99V620.99ZM130.99 623.47V630.9H133.46V623.47ZM133.46 623.47V630.9H135.94V623.47ZM135.94 620.99V630.9H138.41V620.99ZM138.41 620.99V633.37H140.89V620.99ZM140.89 623.47V630.9H143.36V623.47ZM143.36 620.99V630.9H145.84V620.99ZM145.84 620.99V630.9H148.32V620.99ZM148.32 623.47V630.9H150.79V623.47ZM150.79 620.99V630.9H153.27V620.99ZM153.27 623.47V630.9H155.74V623.47ZM155.74 620.99V630.9H158.22V620.99ZM158.22 620.99V630.9H160.69V620.99ZM160.69 623.47V630.9H163.17V623.47ZM163.17 623.47V630.9H165.65V623.47ZM165.65 623.47V630.9H168.12V623.47ZM168.12 623.47V630.9H170.6V623.47ZM170.6 623.47V630.9H173.07V623.47ZM173.07 623.47V630.9H175.55V623.47ZM175.55 623.47V630.9H178.03V623.47ZM178.03 623.47V630.9H180.5V623.47ZM180.5 620.99V630.9H182.98V620.99ZM182.98 623.47V633.37H185.45V623.47ZM185.45 623.47V630.9H187.93V623.47ZM187.93 623.47V630.9H190.4V623.47ZM190.4 620.99V630.9H192.88V620.99ZM192.88 620.99V630.9H195.36V620.99ZM195.36 620.99V630.9H197.83V620.99ZM197.83 623.47V633.37H200.31V623.47ZM200.31 620.99V630.9H202.78V620.99ZM202.78 620.99V630.9H205.26V620.99ZM205.26 623.47V630.9H207.74V623.47ZM207.74 623.47V630.9H210.21V623.47ZM210.21 620.99V630.9H212.69V620.99ZM212.69 620.99V633.37H215.16V620.99ZM215.16 618.52V630.9H217.64V618.52ZM217.64 620.99V630.9H220.11V620.99ZM220.11 623.47V630.9H222.59V623.47ZM222.59 620.99V630.9H225.07V620.99ZM225.07 620.99V630.9H227.54V620.99ZM227.54 620.99V633.37H230.02V620.99ZM230.02 620.99V633.37H232.49V620.99ZM232.49 620.99V630.9H234.97V620.99ZM234.97 623.47V630.9H237.44V623.47ZM237.44 623.47V630.9H239.92V623.47ZM239.92 620.99V630.9H242.4V620.99ZM242.4 623.47V633.37H244.87V623.47ZM244.87 623.47V630.9H247.35V623.47ZM247.35 623.47V630.9H249.82V623.47ZM249.82 620.99V633.37H252.3V620.99ZM252.3 620.99V633.37H254.78V620.99ZM254.78 623.47V630.9H257.25V623.47ZM257.25 620.99V630.9H259.73V620.99ZM259.73 623.47V630.9H262.2V623.47ZM262.2 620.99V630.9H264.68V620.99ZM264.68 620.99V633.37H267.15V620.99ZM267.15 620.99V630.9H269.63V620.99ZM269.63 620.99V630.9H272.11V620.99ZM272.11 620.99V630.9H274.58V620.99ZM274.58 620.99V630.9H277.06V620.99ZM277.06 620.99V630.9H279.53V620.99ZM279.53 623.47V630.9H282.01V623.47ZM282.01 620.99V630.9H284.48V620.99ZM284.48 623.47V630.9H286.96V623.47ZM286.96 620.99V630.9H289.44V620.99ZM289.44 620.99V633.37H291.91V620.99ZM291.91 623.47V630.9H294.39V623.47ZM294.39 620.99V630.9H296.86V620.99ZM296.86 618.52V630.9H299.34V618.52ZM299.34 623.47V630.9H301.82V623.47ZM301.82 620.99V633.37H304.29V620.99ZM304.29 620.99V630.9H306.77V620.99ZM306.77 623.47V633.37H309.24V623.47ZM309.24 623.47V630.9H311.72V623.47ZM311.72 620.99V630.9H314.19V620.99ZM314.19 620.99V630.9H316.67V620.99ZM316.67 623.47V633.37H319.15V623.47ZM319.15 620.99V630.9H321.62V620.99ZM321.62 623.47V633.37H324.1V623.47ZM324.1 620.99V630.9H326.57V620.99ZM326.57 623.47V630.9H329.05V623.47ZM329.05 623.47V633.37H331.52V623.47ZM331.53 620.99V630.9H334V620.99ZM334 620.99V630.9H336.48V620.99ZM336.48 620.99V630.9H338.95V620.99ZM338.95 623.47V630.9H341.43V623.47ZM341.43 623.47V630.9H343.9V623.47ZM343.9 620.99V630.9H346.38V620.99ZM346.38 620.99V630.9H348.86V620.99ZM348.86 623.47V630.9H351.33V623.47ZM351.33 620.99V630.9H353.81V620.99ZM353.81 623.47V630.9H356.28V623.47ZM356.28 620.99V633.37H358.76V620.99ZM358.76 623.47V630.9H361.23V623.47ZM361.23 620.99V630.9H363.71V620.99ZM363.71 620.99V630.9H366.19V620.99ZM366.19 620.99V630.9H368.66V620.99ZM368.66 620.99V630.9H371.14V620.99ZM371.14 620.99V630.9H373.61V620.99ZM373.61 620.99V630.9H376.09V620.99ZM376.09 618.52V630.9H378.57V618.52ZM378.57 620.99V630.9H381.04V620.99ZM381.04 623.47V630.9H383.52V623.47ZM383.52 620.99V630.9H385.99V620.99ZM385.99 620.99V630.9H388.47V620.99ZM388.47 620.99V633.37H390.94V620.99ZM390.94 623.47V630.9H393.42V623.47ZM393.42 620.99V630.9H395.9V620.99ZM395.9 623.47V630.9H398.37V623.47ZM398.37 623.47V630.9H400.85V623.47ZM400.85 623.47V633.37H403.32V623.47ZM403.32 620.99V630.9H405.8V620.99ZM405.8 620.99V630.9H408.27V620.99ZM408.27 620.99V630.9H410.75V620.99ZM410.75 620.99V633.37H413.23V620.99ZM413.23 620.99V633.37H415.7V620.99ZM415.7 623.47V630.9H418.18V623.47ZM418.18 620.99V630.9H420.65V620.99ZM420.65 620.99V633.37H423.13V620.99ZM423.13 620.99V630.9H425.61V620.99ZM425.61 623.47V633.37H428.08V623.47ZM428.08 623.47V630.9H430.56V623.47ZM430.56 620.99V630.9H433.03V620.99ZM433.03 618.52V633.37H435.51V618.52ZM435.51 620.99V630.9H437.98V620.99ZM437.98 620.99V630.9H440.46V620.99ZM440.46 623.47V633.37H442.94V623.47ZM442.94 623.47V630.9H445.41V623.47ZM445.41 623.47V630.9H447.89V623.47ZM447.89 623.47V633.37H450.36V623.47ZM450.36 620.99V630.9H452.84V620.99ZM452.84 623.47V633.37H455.31V623.47ZM455.31 623.47V630.9H457.79V623.47ZM457.79 620.99V630.9H460.27V620.99ZM460.27 620.99V630.9H462.74V620.99ZM462.74 620.99V630.9H465.22V620.99ZM465.22 620.99V630.9H467.69V620.99ZM467.69 620.99V630.9H470.17V620.99ZM470.17 623.47V630.9H472.65V623.47ZM472.65 623.47V630.9H475.12V623.47ZM475.12 620.99V633.37H477.6V620.99ZM477.6 620.99V633.37H480.07V620.99ZM480.07 623.47V633.37H482.55V623.47ZM482.55 620.99V630.9H485.02V620.99ZM485.02 620.99V633.37H487.5V620.99ZM487.5 623.47V630.9H489.98V623.47ZM489.98 620.99V630.9H492.45V620.99ZM492.45 623.47V630.9H494.93V623.47ZM494.93 623.47V630.9H497.4V623.47ZM497.4 620.99V630.9H499.88V620.99ZM499.88 623.47V630.9H502.36V623.47ZM502.36 620.99V633.37H504.83V620.99ZM504.83 620.99V630.9H507.31V620.99ZM507.31 620.99V630.9H509.78V620.99ZM509.78 623.47V630.9H512.26V623.47ZM512.26 620.99V630.9H514.73V620.99ZM514.73 620.99V633.37H517.21V620.99ZM517.21 620.99V633.37H519.69V620.99ZM519.69 620.99V633.37H522.16V620.99ZM522.16 623.47V630.9H524.64V623.47ZM524.64 620.99V630.9H527.11V620.99ZM527.11 620.99V630.9H529.59V620.99ZM529.59 620.99V633.37H532.06V620.99ZM532.06 618.52V633.37H534.54V618.52ZM534.54 620.99V630.9H537.02V620.99ZM537.02 623.47V630.9H539.49V623.47ZM539.49 623.47V630.9H541.97V623.47ZM541.97 618.52V630.9H544.44V618.52ZM544.44 623.47V630.9H546.92V623.47ZM546.92 620.99V630.9H549.4V620.99ZM549.4 623.47V630.9H551.87V623.47ZM551.87 620.99V630.9H554.35V620.99ZM554.35 623.47V630.9H556.82V623.47ZM556.82 620.99V630.9H559.3V620.99ZM559.3 620.99V630.9H561.77V620.99ZM561.77 623.47V630.9H564.25V623.47ZM564.25 620.99V630.9H566.73V620.99ZM566.73 623.47V630.9H569.2V623.47ZM569.2 620.99V630.9H571.68V620.99ZM571.68 623.47V630.9H574.15V623.47ZM574.15 623.47V630.9H576.63V623.47ZM576.63 620.99V630.9H579.11V620.99ZM579.1 623.47V630.9H581.58V623.47ZM581.58 623.47V630.9H584.06V623.47ZM584.06 623.47V630.9H586.53V623.47ZM586.53 623.47V633.37H589.01V623.47ZM589.01 620.99V630.9H591.48V620.99ZM591.48 623.47V630.9H593.96V623.47ZM593.96 507.11V625.95H596.44V507.11ZM596.44 276.86V509.58H598.91V276.86ZM598.91 264.48V281.81H601.39V264.48ZM601.39 254.58V271.91H603.86V254.58ZM603.86 266.95V294.19H606.34V266.95ZM606.34 257.05V309.04H608.81V257.05ZM608.81 252.1V316.47H611.29V252.1ZM611.29 249.62V331.33H613.77V249.62ZM613.77 284.28V413.03H616.24V284.28ZM616.24 408.07V487.3H618.72V408.07ZM618.72 368.46V440.26H621.19V368.46ZM621.19 378.37V447.69H623.67V378.37ZM623.67 400.65V469.97H626.15V400.65ZM626.15 395.7V472.45H628.62V395.7ZM628.62 437.78V484.82H631.1V437.78ZM631.1 415.5V465.02H633.57V415.5ZM633.57 450.16V489.78H636.05V450.16ZM636.05 432.83V472.45H638.52V432.83ZM638.52 465.02V499.68H641V465.02ZM641 452.64V497.2H643.48V452.64ZM643.48 474.92V507.11H645.95V474.92ZM645.95 457.59V507.11H648.43V457.59ZM648.43 472.45V509.58H650.9V472.45ZM650.9 479.87V517.01H653.38V479.87ZM653.38 474.92V509.58H655.85V474.92ZM655.85 494.73V521.96H658.33V494.73ZM658.33 484.82V521.96H660.81V484.82ZM660.81 487.3V526.91H663.28V487.3ZM663.28 494.73V529.39H665.76V494.73ZM665.76 492.25V529.39H668.23V492.25ZM668.23 497.2V534.34H670.71V497.2ZM670.71 497.2V534.34H673.19V497.2ZM673.19 499.68V534.34H675.66V499.68ZM675.66 507.11V531.86H678.14V507.11ZM678.14 509.58V536.82H680.61V509.58ZM680.61 512.06V541.77H683.09V512.06ZM683.09 512.06V541.77H685.56V512.06ZM685.56 514.53V544.24H688.04V514.53ZM688.04 517.01V541.77H690.52V517.01ZM690.52 517.01V539.29H692.99V517.01ZM692.99 521.96V544.24H695.47V521.96ZM695.47 521.96V544.24H697.94V521.96ZM697.94 524.44V544.24H700.42V524.44ZM700.42 531.86V551.67H702.89V531.86ZM702.89 529.39V554.15H705.37V529.39ZM705.37 529.39V554.15H707.85V529.39ZM707.85 534.34V554.15H710.32V534.34ZM710.32 529.39V556.62H712.8V529.39ZM712.8 531.86V556.62H715.27V531.86ZM715.27 531.86V559.1H717.75V531.86ZM717.75 531.86V559.1H720.23V531.86ZM720.23 536.82V564.05H722.7V536.82ZM722.7 539.29V564.05H725.18V539.29ZM725.18 534.34V561.57H727.65V534.34ZM727.65 534.34V561.57H730.13V534.34ZM730.13 536.82V564.05H732.6V536.82ZM732.6 539.29V566.53H735.08V539.29ZM735.08 536.82V564.05H737.56V536.82ZM737.56 539.29V564.05H740.03V539.29ZM740.03 541.77V561.57H742.51V541.77ZM742.51 539.29V566.53H744.98V539.29ZM744.98 536.82V566.53H747.46V536.82ZM747.46 536.82V571.48H749.94V536.82ZM749.94 539.29V566.53H752.41V539.29ZM752.41 536.82V569H754.89V536.82ZM754.89 539.29V571.48H757.36V539.29ZM757.36 536.82V566.53H759.84V536.82ZM759.84 539.29V566.53H762.31V539.29ZM762.31 539.29V571.48H764.79V539.29ZM764.79 536.82V561.57H767.27V536.82ZM767.27 536.82V564.05H769.74V536.82ZM769.74 539.29V569H772.22V539.29ZM772.22 544.24V571.48H774.69V544.24ZM774.69 539.29V566.53H777.17V539.29ZM777.17 544.24V566.53H779.64V544.24ZM779.64 544.24V566.53H782.12V544.24ZM782.12 541.77V569H784.6V541.77ZM784.6 544.24V569H787.07V544.24ZM787.07 549.2V566.53H789.55V549.2ZM789.55 549.2V571.48H792.02V549.2ZM792.02 544.24V566.53H794.5V544.24ZM794.5 541.77V571.48H796.98V541.77ZM796.98 549.2V571.48H799.45V549.2ZM799.45 544.24V571.48H801.93V544.24ZM801.93 549.2V576.43H804.4V549.2ZM804.4 551.67V573.95H806.88V551.67ZM806.88 551.67V573.95H809.35V551.67ZM809.35 554.15V576.43H811.83V554.15ZM811.83 549.2V578.9H814.31V549.2ZM814.31 551.67V578.9H816.78V551.67ZM816.78 554.15V581.38H819.26V554.15ZM819.26 551.67V581.38H821.73V551.67ZM821.73 554.15V581.38H824.21V554.15ZM824.21 551.67V581.38H826.69V551.67ZM826.68 554.15V581.38H829.16V554.15ZM829.16 554.15V581.38H831.64V554.15ZM831.64 556.62V583.86H834.11V556.62ZM834.11 554.15V583.86H836.59V554.15ZM836.59 559.1V578.9H839.06V559.1ZM839.06 559.1V578.9H841.54V559.1ZM841.54 561.57V583.86H844.02V561.57ZM844.02 561.57V583.86H846.49V561.57ZM846.49 559.1V581.38H848.97V559.1ZM848.97 559.1V583.86H851.44V559.1ZM851.44 556.62V583.86H853.92V556.62ZM853.92 556.62V581.38H856.39V556.62ZM856.39 551.67V581.38H858.87V551.67ZM858.87 556.62V581.38H861.35V556.62ZM861.35 556.62V583.86H863.82V556.62ZM863.82 556.62V576.43H866.3V556.62ZM866.3 556.62V578.9H868.77V556.62ZM868.77 551.67V578.9H871.25V551.67ZM871.25 556.62V578.9H873.73V556.62ZM873.73 556.62V576.43H876.2V556.62ZM876.2 556.62V578.9H878.68V556.62ZM878.68 561.57V576.43H881.15V561.57ZM881.15 556.62V578.9H883.63V556.62ZM883.63 556.62V576.43H886.1V556.62ZM886.1 561.57V576.43H888.58V561.57ZM888.58 556.62V581.38H891.06V556.62ZM891.06 559.1V576.43H893.53V559.1ZM893.53 559.1V581.38H896.01V559.1ZM896.01 559.1V578.9H898.48V559.1ZM898.48 559.1V581.38H900.96V559.1ZM900.96 559.1V581.38H903.43V559.1ZM903.43 561.57V583.86H905.91V561.57ZM905.91 566.53V586.33H908.39V566.53ZM908.39 566.53V583.86H910.86V566.53ZM910.86 564.05V581.38H913.34V564.05ZM913.34 569V586.33H915.81V569ZM915.81 569V588.81H918.29V569ZM918.29 564.05V588.81H920.77V564.05ZM920.77 566.53V591.28H923.24V566.53ZM923.24 566.53V588.81H925.72V566.53ZM925.72 566.53V586.33H928.19V566.53ZM928.19 571.48V588.81H930.67V571.48ZM930.67 569V591.28H933.14V569ZM933.14 569V591.28H935.62V569ZM935.62 569V588.81H938.1V569ZM938.1 561.57V588.81H940.57V561.57ZM940.57 564.05V586.33H943.05V564.05ZM943.05 571.48V586.33H945.52V571.48ZM945.52 566.53V581.38H948V566.53ZM948 564.05V586.33H950.48V564.05ZM950.47 566.53V588.81H952.95V566.53ZM952.95 559.1V583.86H955.43V559.1ZM955.43 566.53V588.81H957.9V566.53ZM957.9 566.53V588.81H960.38V566.53ZM960.38 561.57V586.33H962.85V561.57ZM962.85 561.57V588.81H965.33V561.57ZM965.33 561.57V588.81H967.81V561.57ZM967.81 559.1V588.81H970.28V559.1ZM970.28 561.57V586.33H972.76V561.57ZM972.76 564.05V588.81H975.23V564.05ZM975.23 566.53V581.38H977.71V566.53ZM977.71 569V588.81H980.18V569ZM980.18 564.05V588.81H982.66V564.05ZM982.66 569V586.33H985.14V569ZM985.14 569V586.33H987.61V569ZM987.61 566.53V588.81H990.09V566.53ZM990.09 571.48V586.33H992.56V571.48ZM992.56 569V591.28H995.04V569ZM995.04 564.05V588.81H997.52V564.05ZM997.52 566.53V596.24H999.99V566.53ZM999.99 564.05V593.76H1002.47V564.05ZM1002.47 569V593.76H1004.94V569ZM1004.94 571.48V596.24H1007.42V571.48ZM1007.42 569V596.24H1009.89V569ZM1009.89 571.48V598.71H1012.37V571.48ZM1012.37 569V603.66H1014.85V569ZM1014.85 571.48V598.71H1017.32V571.48ZM1017.32 569V593.76H1019.8V569ZM1019.8 569V593.76H1022.27V569ZM1022.27 569V596.24H1024.75V569ZM1024.75 566.53V596.24H1027.22V566.53ZM1027.22 566.53V593.76H1029.7V566.53ZM1029.7 571.48V593.76H1032.18V571.48ZM1032.18 569V593.76H1034.65V569ZM1034.65 571.48V596.24H1037.13V571.48ZM1037.13 569V591.28H1039.6V569ZM1039.6 566.53V591.28H1042.08V566.53ZM1042.08 564.05V591.28H1044.56V564.05ZM1044.56 569V591.28H1047.03V569ZM1047.03 571.48V586.33H1049.51V571.48ZM1049.51 571.48V586.33H1051.98V571.48ZM1051.98 569V586.33H1054.46V569ZM1054.46 569V586.33H1056.93V569ZM1056.93 569V586.33H1059.41V569ZM1059.41 571.48V583.86H1061.89V571.48ZM1061.89 573.95V578.9H1064.36V573.95ZM1064.36 576.43V588.81H1066.84V576.43ZM1066.84 573.95V586.33H1069.31V573.95ZM1069.31 583.86V596.24H1071.79V583.86ZM1071.79 593.76V613.57H1074.26V593.76ZM1074.26 603.66V625.95H1076.74V603.66ZM1076.74 618.52V635.85H1079.22V618.52ZM1079.22 628.42V638.32H1081.69V628.42ZM1081.69 635.85V643.28H1084.17V635.85ZM1084.17 633.37V645.75H1086.64V633.37ZM1086.64 635.85V648.23H1089.12V635.85ZM1089.12 630.9V645.75H1091.6V630.9ZM1091.6 628.42V638.32H1094.07V628.42ZM1094.07 625.95V638.32H1096.55V625.95ZM1096.55 623.47V633.37H1099.02V623.47ZM1099.02 618.52V628.42H1101.5V618.52ZM1101.5 618.52V628.42H1103.97V618.52ZM1103.97 616.04V628.42H1106.45V616.04ZM1106.45 618.52V623.47H1108.93V618.52ZM1108.93 616.04V625.95H1111.4V616.04ZM1111.4 616.04V625.95H1113.88V616.04ZM1113.88 618.52V633.37H1116.35V618.52ZM1116.35 618.52V630.9H1118.83V618.52ZM1118.83 618.52V630.9H1121.31V618.52ZM1121.31 616.04V630.9H1123.78V616.04ZM1123.78 620.99V630.9H1126.26V620.99ZM1126.26 618.52V630.9H1128.73V618.52ZM1128.73 623.47V635.85H1131.21V623.47ZM1131.21 618.52V635.85H1133.68V618.52ZM1133.68 618.52V628.42H1136.16V618.52ZM1136.16 613.57V625.95H1138.64V613.57ZM1138.64 613.57V623.47H1141.11V613.57ZM1141.11 613.57V620.99H1143.59V613.57ZM1143.59 613.57V623.47H1146.06V613.57ZM1146.06 613.57V623.47H1148.54V613.57ZM1148.54 608.61V625.95H1151.01V608.61ZM1151.01 618.52V625.95H1153.49V618.52ZM1153.49 618.52V628.42H1155.97V618.52ZM1155.97 620.99V630.9H1158.44V620.99ZM1158.44 620.99V628.42H1160.92V620.99ZM1160.92 620.99V630.9H1163.39V620.99ZM1163.39 623.47V633.37H1165.87V623.47ZM1165.87 623.47V633.37H1168.35V623.47ZM1168.35 625.95V633.37H1170.82V625.95ZM1170.82 625.95V635.85H1173.3V625.95ZM1173.3 625.95V633.37H1175.77V625.95ZM1175.77 623.47V633.37H1178.25V623.47ZM1178.25 625.95V630.9H1180.72V625.95ZM1180.72 623.47V633.37H1183.2V623.47ZM1183.2 623.47V630.9H1185.68V623.47ZM1185.68 623.47V635.85H1188.15V623.47ZM1188.15 620.99V635.85H1190.63V620.99ZM1190.63 620.99V630.9H1193.1V620.99ZM1193.1 618.52V630.9H1195.58V618.52ZM1195.58 616.04V628.42H1198.05V616.04ZM1198.06 616.04V630.9H1200.53V616.04ZM1200.53 616.04V628.42H1203.01V616.04ZM1203.01 618.52V625.95H1205.48V618.52ZM1205.48 613.57V625.95H1207.96V613.57ZM1207.96 616.04V628.42H1210.43V616.04ZM1210.43 613.57V623.47H1212.91V613.57ZM1212.91 613.57V625.95H1215.39V613.57ZM1215.39 613.57V623.47H1217.86V613.57ZM1217.86 611.09V620.99H1220.34V611.09ZM1220.34 611.09V620.99H1222.81V611.09ZM1222.81 611.09V625.95H1225.29V611.09ZM1225.29 613.57V625.95H1227.76V613.57ZM1227.76 613.57V625.95H1230.24V613.57ZM1230.24 616.04V625.95H1232.72V616.04ZM1232.72 616.04V625.95H1235.19V616.04ZM1235.19 618.52V628.42H1237.67V618.52ZM1237.67 618.52V628.42H1240.14V618.52ZM1240.14 618.52V628.42H1242.62V618.52ZM1242.62 618.52V628.42H1245.1V618.52ZM1245.1 620.99V630.9H1247.57V620.99ZM1247.57 623.47V633.37H1250.05V623.47ZM1250.05 623.47V630.9H1252.52V623.47ZM1252.52 623.47V633.37H1255V623.47ZM1255 623.47V630.9H1257.47V623.47ZM1257.47 620.99V633.37H1259.95V620.99ZM1259.95 625.95V633.37H1262.43V625.95ZM1262.43 623.47V630.9H1264.9V623.47ZM1264.9 620.99V635.85H1267.38V620.99ZM1267.38 623.47V633.37H1269.85V623.47ZM1269.85 620.99V630.9H1272.33V620.99ZM1272.33 620.99V630.9H1274.8V620.99ZM1274.8 618.52V628.42H1277.28V618.52ZM1277.28 618.52V628.42H1279.76V618.52ZM1279.76 613.57V628.42H1282.23V613.57ZM1282.23 611.09V625.95H1284.71V611.09ZM1284.71 611.09V625.95H1287.18V611.09ZM1287.18 608.61V620.99H1289.66V608.61ZM1289.66 603.66V618.52H1292.14V603.66ZM1292.14 606.14V620.99H1294.61V606.14ZM1294.61 606.14V623.47H1297.09V606.14ZM1297.09 611.09V623.47H1299.56V611.09ZM1299.56 611.09V620.99H1302.04V611.09ZM1302.04 613.57V623.47H1304.51V613.57ZM1304.51 613.57V625.95H1306.99V613.57ZM1306.99 618.52V625.95H1309.47V618.52ZM1309.47 613.57V623.47H1311.94V613.57ZM1311.94 616.04V625.95H1314.42V616.04ZM1314.42 613.57V628.42H1316.89V613.57ZM1316.89 613.57V630.9H1319.37V613.57ZM1319.37 616.04V625.95H1321.84V616.04ZM1321.85 620.99V628.42H1324.32V620.99ZM1324.32 620.99V633.37H1326.8V620.99ZM1326.8 623.47V633.37H1329.27V623.47ZM1329.27 620.99V630.9H1331.75V620.99ZM1331.75 620.99V630.9H1334.22V620.99ZM1334.22 620.99V630.9H1336.7V620.99ZM1336.7 623.47V633.37H1339.18V623.47ZM1339.18 620.99V633.37H1341.65V620.99ZM1341.65 623.47V630.9H1344.13V623.47ZM1344.13 620.99V630.9H1346.6V620.99ZM1346.6 618.52V630.9H1349.08V618.52ZM1349.08 618.52V628.42H1351.55V618.52ZM1351.55 613.57V628.42H1354.03V613.57ZM1354.03 613.57V625.95H1356.51V613.57ZM1356.51 616.04V623.47H1358.98V616.04ZM1358.98 608.61V623.47H1361.46V608.61ZM1361.46 613.57V620.99H1363.93V613.57ZM1363.93 611.09V623.47H1366.41V611.09ZM1366.41 611.09V618.52H1368.89V611.09ZM1368.89 613.57V618.52H1371.36V613.57ZM1371.36 611.09V623.47H1373.84V611.09ZM1373.84 613.57V620.99H1376.31V613.57ZM1376.31 608.61V618.52H1378.79V608.61ZM1378.79 611.09V620.99H1381.26V611.09ZM1381.26 611.09V620.99H1383.74V611.09ZM1383.74 611.09V620.99H1386.22V611.09ZM1386.22 611.09V623.47H1388.69V611.09ZM1388.69 613.57V620.99H1391.17V613.57ZM1391.17 613.57V623.47H1393.64V613.57ZM1393.64 613.57V623.47H1396.12V613.57ZM1396.12 616.04V625.95H1398.59V616.04ZM1398.59 613.57V623.47H1401.07V613.57ZM1401.07 618.52V628.42H1403.55V618.52ZM1403.55 613.57V628.42H1406.02V613.57ZM1406.02 618.52V628.42H1408.5V618.52ZM1408.5 618.52V628.42H1410.97V618.52ZM1410.97 620.99V628.42H1413.45V620.99ZM1413.45 618.52V630.9H1415.93V618.52ZM1415.93 623.47V633.37H1418.4V623.47ZM1418.4 623.47V630.9H1420.88V623.47ZM1420.88 618.52V628.42H1423.35V618.52ZM1423.35 616.04V625.95H1425.83V616.04ZM1425.83 613.57V625.95H1428.3V613.57ZM1428.3 613.57V625.95H1430.78V613.57ZM1430.78 608.61V625.95H1433.26V608.61ZM1433.26 606.14V618.52H1435.73V606.14ZM1435.73 603.66V618.52H1438.21V603.66ZM1438.21 608.61V620.99H1440.68V608.61ZM1440.68 611.09V623.47H1443.16V611.09ZM1443.16 613.57V628.42H1445.63V613.57ZM1445.63 618.52V625.95H1448.11V618.52ZM1448.11 618.52V628.42H1450.59V618.52ZM1450.59 620.99V630.9H1453.06V620.99ZM1453.06 616.04V630.9H1455.54V616.04ZM1455.54 616.04V630.9H1458.01V616.04ZM1458.01 616.04V625.95H1460.49V616.04ZM1460.49 616.04V625.95H1462.97V616.04ZM1462.97 616.04V625.95H1465.44V616.04ZM1465.44 616.04V623.47H1467.92V616.04ZM1467.92 613.57V628.42H1470.39V613.57ZM1470.39 613.57V623.47H1472.87V613.57ZM1472.87 613.57V623.47H1475.34V613.57ZM1475.34 611.09V623.47H1477.82V611.09ZM1477.82 613.57V625.95H1480.3V613.57ZM1480.3 616.04V628.42H1482.77V616.04ZM1482.77 618.52V630.9H1485.25V618.52ZM1485.25 620.99V628.42H1487.72V620.99ZM1487.72 620.99V630.9H1490.2V620.99ZM1490.2 623.47V628.42H1492.68V623.47ZM1492.68 618.52V630.9H1495.15V618.52ZM1495.15 620.99V630.9H1497.63V620.99ZM1497.63 623.47V630.9H1500.1V623.47ZM1500.1 620.99V630.9H1502.58V620.99ZM1502.58 618.52V630.9H1505.05V618.52ZM1505.05 616.04V625.95H1507.53V616.04ZM1507.53 616.04V630.9H1510.01V616.04ZM1510.01 613.57V628.42H1512.48V613.57ZM1512.48 613.57V625.95H1514.96V613.57ZM1514.96 616.04V625.95H1517.43V616.04ZM1517.43 613.57V625.95H1519.91V613.57ZM1519.91 608.61V620.99H1522.38V608.61ZM1522.38 613.57V620.99H1524.86V613.57ZM1524.86 608.61V618.52H1527.34V608.61ZM1527.34 608.61V620.99H1529.81V608.61ZM1529.81 608.61V618.52H1532.29V608.61ZM1532.29 608.61V620.99H1534.76V608.61ZM1534.76 608.61V623.47H1537.24V608.61ZM1537.24 611.09V623.47H1539.72V611.09ZM1539.72 616.04V623.47H1542.19V616.04ZM1542.19 616.04V625.95H1544.67V616.04ZM1544.67 613.57V628.42H1547.14V613.57ZM1547.14 618.52V625.95H1549.62V618.52ZM1549.62 618.52V628.42H1552.09V618.52ZM1552.09 620.99V628.42H1554.57V620.99ZM1554.57 618.52V630.9H1557.05V618.52ZM1557.05 618.52V630.9H1559.52V618.52ZM1559.52 618.52V630.9H1562V618.52ZM1562 618.52V628.42H1564.47V618.52ZM1564.47 618.52V628.42H1566.95V618.52ZM1566.95 618.52V625.95H1569.42V618.52ZM1569.42 620.99V630.9H1571.9V620.99ZM1571.9 616.04V628.42H1574.38V616.04ZM1574.38 616.04V628.42H1576.85V616.04ZM1576.85 618.52V628.42H1579.33V618.52ZM1579.33 618.52V628.42H1581.8V618.52ZM1581.8 613.57V630.9H1584.28V613.57ZM1584.28 616.04V628.42H1586.76V616.04ZM1586.76 616.04V625.95H1589.23V616.04ZM1589.23 616.04V625.95H1591.71V616.04ZM1591.71 613.57V625.95H1594.18V613.57ZM1594.18 611.09V623.47H1596.66V611.09ZM1596.66 608.61V623.47H1599.13V608.61ZM1599.13 606.14V623.47H1601.61V606.14ZM1601.61 606.14V623.47H1604.09V606.14ZM1604.09 606.14V618.52H1606.56V606.14ZM1606.56 608.61V618.52H1609.04V608.61ZM1609.04 611.09V618.52H1611.51V611.09ZM1611.51 613.57V618.52H1613.99V613.57ZM1613.99 611.09V620.99H1616.47V611.09ZM1616.47 611.09V625.95H1618.94V611.09ZM1618.94 611.09V623.47H1621.42V611.09ZM1621.42 616.04V623.47H1623.89V616.04ZM1623.89 616.04V620.99H1626.37V616.04ZM1626.37 613.57V628.42H1628.84V613.57ZM1628.84 616.04V623.47H1631.32V616.04ZM1631.32 613.57V625.95H1633.8V613.57ZM1633.8 613.57V628.42H1636.27V613.57ZM1636.27 616.04V625.95H1638.75V616.04ZM1638.75 616.04V623.47H1641.22V616.04ZM1641.22 616.04V628.42H1643.7V616.04ZM1643.7 618.52V628.42H1646.17V618.52ZM1646.17 618.52V628.42H1648.65V618.52ZM1648.65 616.04V630.9H1651.13V616.04ZM1651.13 620.99V625.95H1653.6V620.99ZM1653.6 616.04V628.42H1656.08V616.04ZM1656.08 620.99V628.42H1658.55V620.99ZM1658.55 623.47V628.42H1661.03V623.47ZM1661.03 618.52V628.42H1663.51V618.52ZM1663.51 620.99V628.42H1665.98V620.99ZM1665.98 620.99V628.42H1668.46V620.99ZM1668.46 618.52V628.42H1670.93V618.52ZM1670.93 616.04V625.95H1673.41V616.04ZM1673.41 613.57V628.42H1675.88V613.57ZM1675.88 613.57V625.95H1678.36V613.57ZM1678.36 611.09V620.99H1680.84V611.09ZM1680.84 611.09V620.99H1683.31V611.09ZM1683.31 608.61V620.99H1685.79V608.61ZM1685.79 608.61V620.99H1688.26V608.61ZM1688.26 608.61V618.52H1690.74V608.61ZM1690.74 608.61V620.99H1693.21V608.61ZM1693.21 608.61V618.52H1695.69V608.61ZM1695.69 611.09V623.47H1698.17V611.09ZM1698.17 611.09V620.99H1700.64V611.09ZM1700.64 613.57V620.99H1703.12V613.57ZM1703.12 613.57V623.47H1705.59V613.57ZM1705.59 613.57V625.95H1708.07V613.57ZM1708.07 616.04V628.42H1710.55V616.04ZM1710.55 611.09V625.95H1713.02V611.09ZM1713.02 618.52V625.95H1715.5V618.52ZM1715.5 616.04V625.95H1717.97V616.04ZM1717.97 620.99V630.9H1720.45V620.99ZM1720.45 620.99V630.9H1722.92V620.99ZM1722.92 620.99V628.42H1725.4V620.99ZM1725.4 618.52V633.37H1727.88V618.52ZM1727.88 623.47V630.9H1730.35V623.47ZM1730.35 620.99V633.37H1732.83V620.99ZM1732.83 623.47V630.9H1735.3V623.47ZM1735.3 623.47V630.9H1737.78V623.47ZM1737.78 618.52V628.42H1740.26V618.52ZM1740.26 618.52V630.9H1742.73V618.52ZM1742.73 618.52V625.95H1745.21V618.52ZM1745.21 616.04V625.95H1747.68V616.04ZM1747.68 616.04V625.95H1750.16V616.04ZM1750.16 613.57V623.47H1752.63V613.57ZM1752.63 613.57V623.47H1755.11V613.57ZM1755.11 613.57V623.47H1757.59V613.57ZM1757.59 611.09V623.47H1760.06V611.09ZM1760.06 611.09V620.99H1762.54V611.09ZM1762.54 608.61V623.47H1765.01V608.61ZM1765.01 603.66V620.99H1767.49V603.66ZM1767.49 603.66V620.99H1769.96V603.66ZM1769.96 608.61V620.99H1772.44V608.61ZM1772.44 611.09V623.47H1774.92V611.09ZM1774.92 611.09V620.99H1777.39V611.09ZM1777.39 613.57V620.99H1779.87V613.57ZM1779.87 613.57V623.47H1782.34V613.57ZM1782.34 613.57V625.95H1784.82V613.57ZM1784.82 616.04V625.95H1787.3V616.04ZM1787.3 616.04V625.95H1789.77V616.04ZM1789.77 616.04V628.42H1792.25V616.04ZM1792.25 618.52V628.42H1794.72V618.52ZM1794.72 620.99V625.95H1797.2V620.99ZM1797.2 620.99V628.42H1799.67V620.99ZM1799.67 618.52V633.37H1802.15V618.52ZM1802.15 623.47V628.42H1804.63V623.47ZM1804.63 618.52V628.42H1807.1V618.52ZM1807.1 620.99V628.42H1809.58V620.99ZM1809.58 620.99V630.9H1812.05V620.99ZM1812.05 618.52V630.9H1814.53V618.52ZM1814.53 616.04V628.42H1817V616.04ZM1817 618.52V625.95H1819.48V618.52ZM1819.48 620.99V625.95H1821.96V620.99ZM1821.96 620.99V625.95H1824.43V620.99ZM1824.43 616.04V625.95H1826.91V616.04ZM1826.91 616.04V625.95H1829.38V616.04ZM1829.38 616.04V625.95H1831.86V616.04ZM1831.86 616.04V623.47H1834.34V616.04ZM1834.34 613.57V623.47H1836.81V613.57ZM1836.81 608.61V625.95H1839.29V608.61ZM1839.29 606.14V620.99H1841.76V606.14ZM1841.76 611.09V618.52H1844.24V611.09ZM1844.24 606.14V618.52H1846.71V606.14ZM1846.71 606.14V618.52H1849.19V606.14ZM1849.19 603.66V618.52H1851.67V603.66ZM1851.67 606.14V620.99H1854.14V606.14ZM1854.14 611.09V623.47H1856.62V611.09ZM1856.62 613.57V625.95H1859.09V613.57ZM1859.09 616.04V625.95H1861.57V616.04ZM1861.57 616.04V625.95H1864.05V616.04ZM1864.05 616.04V625.95H1866.52V616.04ZM1866.52 616.04V628.42H1869V616.04ZM1869 616.04V630.9H1871.47V616.04ZM1871.47 618.52V628.42H1873.95V618.52ZM1873.95 620.99V630.9H1876.42V620.99ZM1876.42 618.52V628.42H1878.9V618.52ZM1878.9 618.52V630.9H1881.38V618.52ZM1881.38 616.04V628.42H1883.85V616.04ZM1883.85 616.04V628.42H1886.33V616.04ZM1886.33 616.04V628.42H1888.8V616.04ZM1888.8 618.52V628.42H1891.28V618.52ZM1891.28 618.52V630.9H1893.75V618.52ZM1893.75 620.99V628.42H1896.23V620.99ZM1896.23 616.04V628.42H1898.71V616.04ZM1898.71 620.99V628.42H1901.18V620.99ZM1901.18 618.52V633.37H1903.66V618.52ZM1903.66 618.52V628.42H1906.13V618.52ZM1906.13 616.04V628.42H1908.61V616.04ZM1908.61 613.57V628.42H1911.09V613.57ZM1911.09 618.52V625.95H1913.56V618.52ZM1913.56 613.57V625.95H1916.04V613.57ZM1916.04 613.57V623.47H1918.51V613.57ZM1918.51 611.09V620.99H1920.99V611.09ZM1920.99 608.61V623.47H1923.46V608.61ZM1923.46 606.14V618.52H1925.94V606.14ZM1925.94 606.14V620.99H1928.42V606.14ZM1928.42 606.14V616.04H1930.89V606.14ZM1930.89 603.66V620.99H1933.37V603.66ZM1933.37 608.61V620.99H1935.84V608.61Z"/>
<path fill="#aaaa00" d="M1936 524.4H1941V522.2H1946.4V519.8H1951V517H1955.9V534.6H1951V531.9H1946.4V529H1941V526.7H1936Z"/>
</g>
<g stroke="#000" fill="none" stroke-dasharray="25.8 24.02">
<line x1="593" y1="24.9" x2="593" y2="1057.6" stroke-width="3.9"/>
<line x1="1065.5" y1="24.9" x2="1065.5" y2="1057.6" stroke-width="4.9"/>
</g>
<g>
<text fill="#000" transform="scale(1.1 1)" font-family="'Liberation Serif', serif"><tspan font-size="84.5" x="109.98 153.62 177.09 215.31 259.93 304.56 337.89 361.72 383.35 405.95" y="142.8">Standstill</tspan></text>
<text fill="#000" transform="scale(1.1 1)" font-family="'Liberation Serif', serif"><tspan font-size="84.5" x="574 617.7 646.88 684.67 727.29 760.27 782 819.68 863.71" y="140.9">Transient</tspan></text>
<text fill="#000" transform="scale(1.1 1)" font-family="'Liberation Serif', serif"><tspan font-size="84.5" x="1093.22 1166.04 1202.88 1242.34 1265.53 1333.14 1377.13 1442.86 1461.88 1495.84 1538.68 1575.04 1613.79" y="131.4">Maximum speed</tspan></text>
<text fill="#958c00" transform="scale(1.06 1)" font-family="'Liberation Serif', serif"><tspan font-size="84.5" font-style="italic" x="100.82" y="554.5">i</tspan><tspan font-size="69.5" textLength="27.77" lengthAdjust="spacingAndGlyphs" font-style="italic" x="124.48" y="567.6">q</tspan><tspan font-size="84.5" x="160.38" y="554.2"> </tspan><tspan font-size="91.6" textLength="25.12" lengthAdjust="spacingAndGlyphs" x="177.61" y="556.74">[</tspan><tspan font-size="84.5" x="200.93 243.18 262.12 323.14" y="554.2">4 A </tspan><tspan font-size="104.6" textLength="33.87" lengthAdjust="spacingAndGlyphs" x="344.34" y="562.98">/</tspan><tspan font-size="84.5" x="388.19 435.63 457.46" y="554.2">div</tspan><tspan font-size="91.6" textLength="24.83" lengthAdjust="spacingAndGlyphs" x="501.36" y="556.74">]</tspan></text>
<text fill="#ec008c" transform="scale(1.06 1)" font-family="'Liberation Serif', serif"><tspan font-size="84.5" font-style="italic" x="99.97" y="749.5">i</tspan><tspan font-size="68.5" textLength="29.97" lengthAdjust="spacingAndGlyphs" font-style="italic" x="123.75" y="766.3">d</tspan><tspan font-size="84.5" x="160.38" y="749"> </tspan><tspan font-size="91.6" textLength="25.54" lengthAdjust="spacingAndGlyphs" x="178.27" y="751.74">[</tspan><tspan font-size="84.5" x="201.96 244.21 262.69 323.71" y="749">4 A </tspan><tspan font-size="104.6" textLength="33.87" lengthAdjust="spacingAndGlyphs" x="345" y="757.98">/</tspan><tspan font-size="84.5" x="389.23 435.63 458.03" y="749">div</tspan><tspan font-size="91.6" textLength="25.12" lengthAdjust="spacingAndGlyphs" x="501.8" y="751.74">]</tspan></text>
<text fill="#000" transform="scale(1.06 1)" font-family="'Liberation Serif', serif"><tspan font-size="84.5" textLength="46.66" lengthAdjust="spacingAndGlyphs" font-style="italic" x="1167.25" y="963.3">T</tspan><tspan font-size="66.5" textLength="21.5" lengthAdjust="spacingAndGlyphs" font-style="italic" x="1213.38" y="976.3">s</tspan><tspan font-size="84.5" x="1243.4" y="963.6"> </tspan><tspan font-size="91.6" textLength="25.4" lengthAdjust="spacingAndGlyphs" x="1260.38" y="965.94">[</tspan><tspan font-size="84.5" x="1283.73 1323.36 1365.61 1382 1453.87 1486.75" y="963.6">50 ms </tspan><tspan font-size="104.6" textLength="33.68" lengthAdjust="spacingAndGlyphs" x="1507.36" y="972.18">/</tspan><tspan font-size="84.5" x="1550.51 1596.2 1619.3" y="963.6">div</tspan><tspan font-size="91.6" textLength="26.67" lengthAdjust="spacingAndGlyphs" x="1663.43" y="965.94">]</tspan></text>
</g>
<rect x="0" y="1057.6" width="1966" height="22.4" fill="#fff"/>
</svg>
</body>
</html>
